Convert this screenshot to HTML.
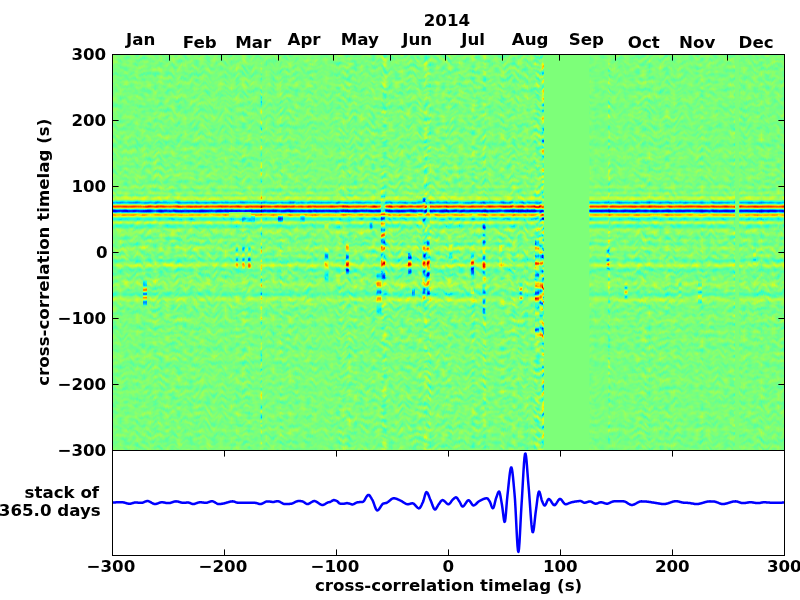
<!DOCTYPE html>
<html lang="en"><head><meta charset="utf-8"><title>cross-correlation 2014</title>
<style>html,body{margin:0;padding:0;background:#fff;overflow:hidden}svg{display:block}text{font-family:"DejaVu Sans","Liberation Sans",sans-serif;font-weight:bold;font-size:16.667px;fill:#000}</style></head><body>
<svg width="800" height="600" viewBox="0 0 800 600">
<rect width="800" height="600" fill="#fff"/>
<defs>
<filter id="jet" filterUnits="userSpaceOnUse" x="102.5" y="44.5" width="2494.0" height="416.0" color-interpolation-filters="sRGB">
<feTurbulence x="102.5" y="44.5" width="692.0" height="416.0" type="fractalNoise" baseFrequency="0.17 0.26" numOctaves="1" seed="7" result="n0"/>
<feColorMatrix x="102.5" y="44.5" width="692.0" height="416.0" in="n0" type="matrix" values="1 0 0 0 0 1 0 0 0 0 1 0 0 0 0 0 0 0 0 1" result="n1"/>
<feTurbulence x="102.5" y="44.5" width="692.0" height="416.0" type="fractalNoise" baseFrequency="0.11 0.012" numOctaves="1" seed="23" result="d0"/>
<feColorMatrix x="102.5" y="44.5" width="692.0" height="416.0" in="d0" type="matrix" values="1 0 0 0 0 0 0 0 0 0.5 0 0 0 0 0.5 0 0 0 0 1" result="d"/>
<feDisplacementMap x="112.5" y="54.5" width="672.0" height="396.0" in="n1" in2="d" scale="14" xChannelSelector="G" yChannelSelector="R" result="n"/>
<feGaussianBlur x="112.5" y="54.5" width="672.0" height="396.0" in="SourceGraphic" stdDeviation="0.7 0.25" result="sig"/>
<feOffset x="112.5" y="54.5" width="672.0" height="396.0" in="SourceGraphic" dx="-900" dy="0" result="ampb"/>
<feOffset x="112.5" y="54.5" width="672.0" height="396.0" in="SourceGraphic" dx="-1800" dy="0" result="ampg"/>
<feComposite x="112.5" y="54.5" width="672.0" height="396.0" in="ampb" in2="ampg" operator="arithmetic" k1="2" k2="0" k3="0" k4="0" result="amp"/>
<feComposite x="112.5" y="54.5" width="672.0" height="396.0" in="n" in2="amp" operator="arithmetic" k1="2" k2="0" k3="-1" k4="0.5" result="na"/>
<feComposite x="112.5" y="54.5" width="672.0" height="396.0" in="na" in2="sig" operator="arithmetic" k1="0" k2="1" k3="1" k4="-0.502" result="sum"/>
<feComponentTransfer x="112.5" y="54.5" width="672.0" height="396.0" in="sum"><feFuncR type="table" tableValues="0 0 0 0 0 0 0 0 0 0 0 0 0 0 0 0.081 0.161 0.242 0.323 0.403 0.484 0.565 0.645 0.726 0.806 0.887 0.968 1 1 1 1 1 1 1 1 1 0.955 0.841 0.727 0.614 0.5"/><feFuncG type="table" tableValues="0 0 0 0 0 0 0.1 0.2 0.3 0.4 0.5 0.6 0.7 0.8 0.9 1 1 1 1 1 1 1 1 1 1 1 0.963 0.87 0.778 0.685 0.593 0.5 0.407 0.315 0.222 0.13 0.037 0 0 0 0"/><feFuncB type="table" tableValues="0.5 0.614 0.727 0.841 0.955 1 1 1 1 1 1 1 1 1 0.968 0.887 0.806 0.726 0.645 0.565 0.484 0.403 0.323 0.242 0.161 0.081 0 0 0 0 0 0 0 0 0 0 0 0 0 0 0"/></feComponentTransfer>
</filter>
<linearGradient id="sg2" x1="0" y1="0" x2="0" y2="1"><stop offset="0.000" stop-color="#808080"/><stop offset="0.012" stop-color="#7e7e7e"/><stop offset="0.023" stop-color="#7d7d7d"/><stop offset="0.035" stop-color="#7e7e7e"/><stop offset="0.047" stop-color="#838383"/><stop offset="0.058" stop-color="#858585"/><stop offset="0.070" stop-color="#818181"/><stop offset="0.081" stop-color="#797979"/><stop offset="0.093" stop-color="#757575"/><stop offset="0.105" stop-color="#797979"/><stop offset="0.116" stop-color="#828282"/><stop offset="0.128" stop-color="#8a8a8a"/><stop offset="0.140" stop-color="#8f8f8f"/><stop offset="0.151" stop-color="#8d8d8d"/><stop offset="0.163" stop-color="#888888"/><stop offset="0.174" stop-color="#828282"/><stop offset="0.186" stop-color="#7c7c7c"/><stop offset="0.198" stop-color="#7c7c7c"/><stop offset="0.209" stop-color="#808080"/><stop offset="0.221" stop-color="#848484"/><stop offset="0.233" stop-color="#878787"/><stop offset="0.244" stop-color="#848484"/><stop offset="0.256" stop-color="#7d7d7d"/><stop offset="0.267" stop-color="#757575"/><stop offset="0.279" stop-color="#6d6d6d"/><stop offset="0.291" stop-color="#6e6e6e"/><stop offset="0.302" stop-color="#797979"/><stop offset="0.314" stop-color="#868686"/><stop offset="0.326" stop-color="#929292"/><stop offset="0.337" stop-color="#9d9d9d"/><stop offset="0.349" stop-color="#9a9a9a"/><stop offset="0.360" stop-color="#8a8a8a"/><stop offset="0.372" stop-color="#7d7d7d"/><stop offset="0.384" stop-color="#737373"/><stop offset="0.395" stop-color="#6f6f6f"/><stop offset="0.407" stop-color="#727272"/><stop offset="0.419" stop-color="#787878"/><stop offset="0.430" stop-color="#7c7c7c"/><stop offset="0.442" stop-color="#7e7e7e"/><stop offset="0.453" stop-color="#7c7c7c"/><stop offset="0.465" stop-color="#7b7b7b"/><stop offset="0.477" stop-color="#7b7b7b"/><stop offset="0.488" stop-color="#7d7d7d"/><stop offset="0.500" stop-color="#808080"/><stop offset="0.512" stop-color="#848484"/><stop offset="0.523" stop-color="#868686"/><stop offset="0.535" stop-color="#888888"/><stop offset="0.547" stop-color="#8a8a8a"/><stop offset="0.558" stop-color="#8c8c8c"/><stop offset="0.570" stop-color="#8c8c8c"/><stop offset="0.581" stop-color="#8a8a8a"/><stop offset="0.593" stop-color="#868686"/><stop offset="0.605" stop-color="#828282"/><stop offset="0.616" stop-color="#7f7f7f"/><stop offset="0.628" stop-color="#7e7e7e"/><stop offset="0.640" stop-color="#7d7d7d"/><stop offset="0.651" stop-color="#787878"/><stop offset="0.663" stop-color="#707070"/><stop offset="0.674" stop-color="#6a6a6a"/><stop offset="0.686" stop-color="#6b6b6b"/><stop offset="0.698" stop-color="#767676"/><stop offset="0.709" stop-color="#848484"/><stop offset="0.721" stop-color="#8d8d8d"/><stop offset="0.733" stop-color="#949494"/><stop offset="0.744" stop-color="#969696"/><stop offset="0.756" stop-color="#8f8f8f"/><stop offset="0.767" stop-color="#878787"/><stop offset="0.779" stop-color="#828282"/><stop offset="0.791" stop-color="#818181"/><stop offset="0.802" stop-color="#818181"/><stop offset="0.814" stop-color="#818181"/><stop offset="0.826" stop-color="#7f7f7f"/><stop offset="0.837" stop-color="#7c7c7c"/><stop offset="0.849" stop-color="#7a7a7a"/><stop offset="0.860" stop-color="#7b7b7b"/><stop offset="0.872" stop-color="#7d7d7d"/><stop offset="0.884" stop-color="#7e7e7e"/><stop offset="0.895" stop-color="#7e7e7e"/><stop offset="0.907" stop-color="#7d7d7d"/><stop offset="0.919" stop-color="#7d7d7d"/><stop offset="0.930" stop-color="#7d7d7d"/><stop offset="0.942" stop-color="#7f7f7f"/><stop offset="0.953" stop-color="#828282"/><stop offset="0.965" stop-color="#838383"/><stop offset="0.977" stop-color="#828282"/><stop offset="0.988" stop-color="#808080"/><stop offset="1.000" stop-color="#808080"/></linearGradient>
<linearGradient id="sg" x1="0" y1="0" x2="0" y2="1"><stop offset="0.0000" stop-color="#808080"/><stop offset="0.0343" stop-color="#808080"/><stop offset="0.0444" stop-color="#7f7f7f"/><stop offset="0.0566" stop-color="#7f7f7f"/><stop offset="0.0646" stop-color="#7f7f7f"/><stop offset="0.0747" stop-color="#828282"/><stop offset="0.0929" stop-color="#7d7d7d"/><stop offset="0.1071" stop-color="#828282"/><stop offset="0.1192" stop-color="#808080"/><stop offset="0.1313" stop-color="#7d7d7d"/><stop offset="0.1636" stop-color="#828282"/><stop offset="0.1798" stop-color="#7d7d7d"/><stop offset="0.2141" stop-color="#828282"/><stop offset="0.2263" stop-color="#7b7b7b"/><stop offset="0.2323" stop-color="#7e7e7e"/><stop offset="0.2384" stop-color="#828282"/><stop offset="0.2566" stop-color="#818181"/><stop offset="0.2646" stop-color="#7e7e7e"/><stop offset="0.2747" stop-color="#808080"/><stop offset="0.2828" stop-color="#7e7e7e"/><stop offset="0.2889" stop-color="#828282"/><stop offset="0.2990" stop-color="#808080"/><stop offset="0.3051" stop-color="#838383"/><stop offset="0.3212" stop-color="#7e7e7e"/><stop offset="0.3253" stop-color="#7d7d7d"/><stop offset="0.3273" stop-color="#7d7d7d"/><stop offset="0.3333" stop-color="#868686"/><stop offset="0.3354" stop-color="#868686"/><stop offset="0.3414" stop-color="#7b7b7b"/><stop offset="0.3434" stop-color="#7b7b7b"/><stop offset="0.3495" stop-color="#868686"/><stop offset="0.3515" stop-color="#868686"/><stop offset="0.3556" stop-color="#7c7c7c"/><stop offset="0.3596" stop-color="#8e8e8e"/><stop offset="0.3616" stop-color="#929292"/><stop offset="0.3636" stop-color="#949494"/><stop offset="0.3657" stop-color="#939393"/><stop offset="0.3677" stop-color="#858585"/><stop offset="0.3717" stop-color="#595959"/><stop offset="0.3737" stop-color="#4b4b4b"/><stop offset="0.3758" stop-color="#515151"/><stop offset="0.3778" stop-color="#717171"/><stop offset="0.3798" stop-color="#9e9e9e"/><stop offset="0.3818" stop-color="#c7c7c7"/><stop offset="0.3838" stop-color="#dbdbdb"/><stop offset="0.3859" stop-color="#cecece"/><stop offset="0.3879" stop-color="#a8a8a8"/><stop offset="0.3919" stop-color="#444444"/><stop offset="0.3939" stop-color="#232323"/><stop offset="0.3960" stop-color="#1f1f1f"/><stop offset="0.3980" stop-color="#3b3b3b"/><stop offset="0.4020" stop-color="#969696"/><stop offset="0.4040" stop-color="#b6b6b6"/><stop offset="0.4061" stop-color="#b8b8b8"/><stop offset="0.4081" stop-color="#a7a7a7"/><stop offset="0.4121" stop-color="#747474"/><stop offset="0.4141" stop-color="#626262"/><stop offset="0.4162" stop-color="#5f5f5f"/><stop offset="0.4182" stop-color="#6b6b6b"/><stop offset="0.4222" stop-color="#8d8d8d"/><stop offset="0.4242" stop-color="#959595"/><stop offset="0.4263" stop-color="#909090"/><stop offset="0.4303" stop-color="#747474"/><stop offset="0.4323" stop-color="#6c6c6c"/><stop offset="0.4343" stop-color="#6d6d6d"/><stop offset="0.4364" stop-color="#717171"/><stop offset="0.4384" stop-color="#787878"/><stop offset="0.4404" stop-color="#848484"/><stop offset="0.4424" stop-color="#888888"/><stop offset="0.4505" stop-color="#858585"/><stop offset="0.4586" stop-color="#7e7e7e"/><stop offset="0.4626" stop-color="#7a7a7a"/><stop offset="0.4646" stop-color="#7c7c7c"/><stop offset="0.4687" stop-color="#838383"/><stop offset="0.4707" stop-color="#848484"/><stop offset="0.4768" stop-color="#7a7a7a"/><stop offset="0.4788" stop-color="#787878"/><stop offset="0.4808" stop-color="#7a7a7a"/><stop offset="0.4869" stop-color="#888888"/><stop offset="0.4889" stop-color="#8a8a8a"/><stop offset="0.4949" stop-color="#848484"/><stop offset="0.4990" stop-color="#7d7d7d"/><stop offset="0.5030" stop-color="#7f7f7f"/><stop offset="0.5071" stop-color="#848484"/><stop offset="0.5091" stop-color="#848484"/><stop offset="0.5131" stop-color="#7f7f7f"/><stop offset="0.5192" stop-color="#737373"/><stop offset="0.5212" stop-color="#737373"/><stop offset="0.5232" stop-color="#787878"/><stop offset="0.5313" stop-color="#939393"/><stop offset="0.5333" stop-color="#939393"/><stop offset="0.5354" stop-color="#8c8c8c"/><stop offset="0.5374" stop-color="#838383"/><stop offset="0.5414" stop-color="#787878"/><stop offset="0.5434" stop-color="#757575"/><stop offset="0.5475" stop-color="#787878"/><stop offset="0.5515" stop-color="#7d7d7d"/><stop offset="0.5556" stop-color="#7e7e7e"/><stop offset="0.5616" stop-color="#7d7d7d"/><stop offset="0.5798" stop-color="#888888"/><stop offset="0.5838" stop-color="#878787"/><stop offset="0.5919" stop-color="#7f7f7f"/><stop offset="0.5980" stop-color="#7d7d7d"/><stop offset="0.6040" stop-color="#727272"/><stop offset="0.6061" stop-color="#717171"/><stop offset="0.6081" stop-color="#747474"/><stop offset="0.6121" stop-color="#828282"/><stop offset="0.6162" stop-color="#8b8b8b"/><stop offset="0.6182" stop-color="#8e8e8e"/><stop offset="0.6202" stop-color="#8e8e8e"/><stop offset="0.6263" stop-color="#828282"/><stop offset="0.6384" stop-color="#7f7f7f"/><stop offset="0.6424" stop-color="#7c7c7c"/><stop offset="0.6525" stop-color="#7e7e7e"/><stop offset="0.6626" stop-color="#7f7f7f"/><stop offset="0.6687" stop-color="#848484"/><stop offset="0.6727" stop-color="#848484"/><stop offset="0.6869" stop-color="#7b7b7b"/><stop offset="0.6929" stop-color="#7e7e7e"/><stop offset="0.6990" stop-color="#838383"/><stop offset="0.7091" stop-color="#7d7d7d"/><stop offset="0.7192" stop-color="#828282"/><stop offset="0.7273" stop-color="#818181"/><stop offset="0.7354" stop-color="#7d7d7d"/><stop offset="0.7455" stop-color="#7d7d7d"/><stop offset="0.7535" stop-color="#828282"/><stop offset="0.7657" stop-color="#828282"/><stop offset="0.7717" stop-color="#818181"/><stop offset="0.7798" stop-color="#7d7d7d"/><stop offset="0.7939" stop-color="#7f7f7f"/><stop offset="0.8162" stop-color="#808080"/><stop offset="0.8242" stop-color="#828282"/><stop offset="0.8424" stop-color="#7d7d7d"/><stop offset="0.8525" stop-color="#828282"/><stop offset="0.8626" stop-color="#7f7f7f"/><stop offset="0.8727" stop-color="#808080"/><stop offset="0.8808" stop-color="#7d7d7d"/><stop offset="0.8889" stop-color="#808080"/><stop offset="0.8990" stop-color="#808080"/><stop offset="0.9071" stop-color="#828282"/><stop offset="0.9172" stop-color="#7f7f7f"/><stop offset="0.9293" stop-color="#808080"/><stop offset="0.9374" stop-color="#7d7d7d"/><stop offset="0.9475" stop-color="#838383"/><stop offset="0.9576" stop-color="#7f7f7f"/><stop offset="0.9697" stop-color="#7f7f7f"/><stop offset="0.9778" stop-color="#7e7e7e"/><stop offset="0.9899" stop-color="#808080"/><stop offset="1.0000" stop-color="#808080"/></linearGradient>
<linearGradient id="x0" x1="0" y1="0" x2="0" y2="1"><stop offset="0.000" stop-color="#808080"/><stop offset="0.016" stop-color="#959595"/><stop offset="0.033" stop-color="#9e9e9e"/><stop offset="0.049" stop-color="#959595"/><stop offset="0.066" stop-color="#757575"/><stop offset="0.082" stop-color="#616161"/><stop offset="0.098" stop-color="#767676"/><stop offset="0.115" stop-color="#959595"/><stop offset="0.131" stop-color="#8c8c8c"/><stop offset="0.148" stop-color="#666666"/><stop offset="0.164" stop-color="#696969"/><stop offset="0.180" stop-color="#848484"/><stop offset="0.197" stop-color="#8e8e8e"/><stop offset="0.213" stop-color="#7a7a7a"/><stop offset="0.230" stop-color="#616161"/><stop offset="0.246" stop-color="#5e5e5e"/><stop offset="0.262" stop-color="#a3a3a3"/><stop offset="0.279" stop-color="#d4d4d4"/><stop offset="0.295" stop-color="#9a9a9a"/><stop offset="0.311" stop-color="#3c3c3c"/><stop offset="0.328" stop-color="#1c1c1c"/><stop offset="0.344" stop-color="#4e4e4e"/><stop offset="0.361" stop-color="#999999"/><stop offset="0.377" stop-color="#c6c6c6"/><stop offset="0.393" stop-color="#b9b9b9"/><stop offset="0.410" stop-color="#919191"/><stop offset="0.426" stop-color="#646464"/><stop offset="0.443" stop-color="#444444"/><stop offset="0.459" stop-color="#474747"/><stop offset="0.475" stop-color="#6f6f6f"/><stop offset="0.492" stop-color="#a1a1a1"/><stop offset="0.508" stop-color="#bebebe"/><stop offset="0.525" stop-color="#b3b3b3"/><stop offset="0.541" stop-color="#8f8f8f"/><stop offset="0.557" stop-color="#646464"/><stop offset="0.574" stop-color="#454545"/><stop offset="0.590" stop-color="#464646"/><stop offset="0.607" stop-color="#717171"/><stop offset="0.623" stop-color="#a8a8a8"/><stop offset="0.639" stop-color="#cbcbcb"/><stop offset="0.656" stop-color="#c4c4c4"/><stop offset="0.672" stop-color="#ababab"/><stop offset="0.689" stop-color="#898989"/><stop offset="0.705" stop-color="#6b6b6b"/><stop offset="0.721" stop-color="#5a5a5a"/><stop offset="0.738" stop-color="#5f5f5f"/><stop offset="0.754" stop-color="#767676"/><stop offset="0.770" stop-color="#979797"/><stop offset="0.787" stop-color="#b9b9b9"/><stop offset="0.803" stop-color="#d4d4d4"/><stop offset="0.820" stop-color="#e0e0e0"/><stop offset="0.836" stop-color="#d5d5d5"/><stop offset="0.852" stop-color="#b5b5b5"/><stop offset="0.869" stop-color="#8e8e8e"/><stop offset="0.885" stop-color="#6d6d6d"/><stop offset="0.902" stop-color="#585858"/><stop offset="0.918" stop-color="#444444"/><stop offset="0.934" stop-color="#363636"/><stop offset="0.951" stop-color="#343434"/><stop offset="0.967" stop-color="#414141"/><stop offset="0.984" stop-color="#5b5b5b"/><stop offset="1.000" stop-color="#808080"/></linearGradient>
<linearGradient id="x1" x1="0" y1="0" x2="0" y2="1"><stop offset="0.000" stop-color="#808080"/><stop offset="0.034" stop-color="#636363"/><stop offset="0.069" stop-color="#515151"/><stop offset="0.103" stop-color="#4d4d4d"/><stop offset="0.138" stop-color="#5b5b5b"/><stop offset="0.172" stop-color="#737373"/><stop offset="0.207" stop-color="#909090"/><stop offset="0.241" stop-color="#acacac"/><stop offset="0.276" stop-color="#bfbfbf"/><stop offset="0.310" stop-color="#c3c3c3"/><stop offset="0.345" stop-color="#afafaf"/><stop offset="0.379" stop-color="#8b8b8b"/><stop offset="0.414" stop-color="#626262"/><stop offset="0.448" stop-color="#424242"/><stop offset="0.483" stop-color="#393939"/><stop offset="0.517" stop-color="#535353"/><stop offset="0.552" stop-color="#828282"/><stop offset="0.586" stop-color="#afafaf"/><stop offset="0.621" stop-color="#c4c4c4"/><stop offset="0.655" stop-color="#b8b8b8"/><stop offset="0.690" stop-color="#9a9a9a"/><stop offset="0.724" stop-color="#7d7d7d"/><stop offset="0.759" stop-color="#6f6f6f"/><stop offset="0.793" stop-color="#666666"/><stop offset="0.828" stop-color="#5e5e5e"/><stop offset="0.862" stop-color="#5a5a5a"/><stop offset="0.897" stop-color="#5a5a5a"/><stop offset="0.931" stop-color="#616161"/><stop offset="0.966" stop-color="#6e6e6e"/><stop offset="1.000" stop-color="#808080"/></linearGradient>
<linearGradient id="x2" x1="0" y1="0" x2="0" y2="1"><stop offset="0.000" stop-color="#808080"/><stop offset="0.014" stop-color="#505050"/><stop offset="0.027" stop-color="#383838"/><stop offset="0.041" stop-color="#363636"/><stop offset="0.054" stop-color="#616161"/><stop offset="0.068" stop-color="#a1a1a1"/><stop offset="0.081" stop-color="#cfcfcf"/><stop offset="0.095" stop-color="#c1c1c1"/><stop offset="0.108" stop-color="#757575"/><stop offset="0.122" stop-color="#2f2f2f"/><stop offset="0.135" stop-color="#373737"/><stop offset="0.149" stop-color="#7f7f7f"/><stop offset="0.162" stop-color="#b2b2b2"/><stop offset="0.176" stop-color="#9c9c9c"/><stop offset="0.189" stop-color="#676767"/><stop offset="0.203" stop-color="#3a3a3a"/><stop offset="0.216" stop-color="#383838"/><stop offset="0.230" stop-color="#545454"/><stop offset="0.243" stop-color="#797979"/><stop offset="0.257" stop-color="#959595"/><stop offset="0.270" stop-color="#969696"/><stop offset="0.284" stop-color="#868686"/><stop offset="0.297" stop-color="#737373"/><stop offset="0.311" stop-color="#6b6b6b"/><stop offset="0.324" stop-color="#717171"/><stop offset="0.338" stop-color="#7d7d7d"/><stop offset="0.351" stop-color="#888888"/><stop offset="0.365" stop-color="#8c8c8c"/><stop offset="0.378" stop-color="#858585"/><stop offset="0.392" stop-color="#787878"/><stop offset="0.405" stop-color="#6b6b6b"/><stop offset="0.419" stop-color="#666666"/><stop offset="0.432" stop-color="#777777"/><stop offset="0.446" stop-color="#9a9a9a"/><stop offset="0.459" stop-color="#bababa"/><stop offset="0.473" stop-color="#c4c4c4"/><stop offset="0.486" stop-color="#a8a8a8"/><stop offset="0.500" stop-color="#777777"/><stop offset="0.514" stop-color="#484848"/><stop offset="0.527" stop-color="#333333"/><stop offset="0.541" stop-color="#3f3f3f"/><stop offset="0.554" stop-color="#5e5e5e"/><stop offset="0.568" stop-color="#878787"/><stop offset="0.581" stop-color="#b1b1b1"/><stop offset="0.595" stop-color="#d3d3d3"/><stop offset="0.608" stop-color="#e5e5e5"/><stop offset="0.622" stop-color="#d9d9d9"/><stop offset="0.635" stop-color="#adadad"/><stop offset="0.649" stop-color="#757575"/><stop offset="0.662" stop-color="#464646"/><stop offset="0.676" stop-color="#333333"/><stop offset="0.689" stop-color="#3c3c3c"/><stop offset="0.703" stop-color="#505050"/><stop offset="0.716" stop-color="#6c6c6c"/><stop offset="0.730" stop-color="#898989"/><stop offset="0.743" stop-color="#a3a3a3"/><stop offset="0.757" stop-color="#b4b4b4"/><stop offset="0.770" stop-color="#b7b7b7"/><stop offset="0.784" stop-color="#adadad"/><stop offset="0.797" stop-color="#9a9a9a"/><stop offset="0.811" stop-color="#818181"/><stop offset="0.824" stop-color="#676767"/><stop offset="0.838" stop-color="#4f4f4f"/><stop offset="0.851" stop-color="#3d3d3d"/><stop offset="0.865" stop-color="#333333"/><stop offset="0.878" stop-color="#3f3f3f"/><stop offset="0.892" stop-color="#6a6a6a"/><stop offset="0.905" stop-color="#9c9c9c"/><stop offset="0.919" stop-color="#c0c0c0"/><stop offset="0.932" stop-color="#bbbbbb"/><stop offset="0.946" stop-color="#8f8f8f"/><stop offset="0.959" stop-color="#696969"/><stop offset="0.973" stop-color="#666666"/><stop offset="0.986" stop-color="#6c6c6c"/><stop offset="1.000" stop-color="#808080"/></linearGradient>
<linearGradient id="x3" x1="0" y1="0" x2="0" y2="1"><stop offset="0.000" stop-color="#808080"/><stop offset="0.015" stop-color="#6e6e6e"/><stop offset="0.029" stop-color="#676767"/><stop offset="0.044" stop-color="#696969"/><stop offset="0.059" stop-color="#828282"/><stop offset="0.074" stop-color="#949494"/><stop offset="0.088" stop-color="#878787"/><stop offset="0.103" stop-color="#6e6e6e"/><stop offset="0.118" stop-color="#616161"/><stop offset="0.132" stop-color="#8b8b8b"/><stop offset="0.147" stop-color="#c6c6c6"/><stop offset="0.162" stop-color="#bfbfbf"/><stop offset="0.176" stop-color="#919191"/><stop offset="0.191" stop-color="#696969"/><stop offset="0.206" stop-color="#6a6a6a"/><stop offset="0.221" stop-color="#797979"/><stop offset="0.235" stop-color="#888888"/><stop offset="0.250" stop-color="#8c8c8c"/><stop offset="0.265" stop-color="#868686"/><stop offset="0.279" stop-color="#7c7c7c"/><stop offset="0.294" stop-color="#757575"/><stop offset="0.309" stop-color="#737373"/><stop offset="0.324" stop-color="#777777"/><stop offset="0.338" stop-color="#7d7d7d"/><stop offset="0.353" stop-color="#848484"/><stop offset="0.368" stop-color="#8a8a8a"/><stop offset="0.382" stop-color="#8c8c8c"/><stop offset="0.397" stop-color="#7d7d7d"/><stop offset="0.412" stop-color="#5d5d5d"/><stop offset="0.426" stop-color="#3e3e3e"/><stop offset="0.441" stop-color="#343434"/><stop offset="0.456" stop-color="#5c5c5c"/><stop offset="0.471" stop-color="#9b9b9b"/><stop offset="0.485" stop-color="#c3c3c3"/><stop offset="0.500" stop-color="#bdbdbd"/><stop offset="0.515" stop-color="#a6a6a6"/><stop offset="0.529" stop-color="#898989"/><stop offset="0.544" stop-color="#707070"/><stop offset="0.559" stop-color="#666666"/><stop offset="0.574" stop-color="#717171"/><stop offset="0.588" stop-color="#8c8c8c"/><stop offset="0.603" stop-color="#aeaeae"/><stop offset="0.618" stop-color="#cecece"/><stop offset="0.632" stop-color="#e3e3e3"/><stop offset="0.647" stop-color="#e3e3e3"/><stop offset="0.662" stop-color="#d1d1d1"/><stop offset="0.676" stop-color="#b3b3b3"/><stop offset="0.691" stop-color="#8f8f8f"/><stop offset="0.706" stop-color="#6b6b6b"/><stop offset="0.721" stop-color="#4b4b4b"/><stop offset="0.735" stop-color="#373737"/><stop offset="0.750" stop-color="#353535"/><stop offset="0.765" stop-color="#4c4c4c"/><stop offset="0.779" stop-color="#747474"/><stop offset="0.794" stop-color="#9f9f9f"/><stop offset="0.809" stop-color="#bdbdbd"/><stop offset="0.824" stop-color="#c3c3c3"/><stop offset="0.838" stop-color="#b5b5b5"/><stop offset="0.853" stop-color="#9b9b9b"/><stop offset="0.868" stop-color="#7c7c7c"/><stop offset="0.882" stop-color="#5c5c5c"/><stop offset="0.897" stop-color="#424242"/><stop offset="0.912" stop-color="#343434"/><stop offset="0.926" stop-color="#3b3b3b"/><stop offset="0.941" stop-color="#5a5a5a"/><stop offset="0.956" stop-color="#7c7c7c"/><stop offset="0.971" stop-color="#8c8c8c"/><stop offset="0.985" stop-color="#8a8a8a"/><stop offset="1.000" stop-color="#808080"/></linearGradient>
<linearGradient id="x4" x1="0" y1="0" x2="0" y2="1"><stop offset="0.000" stop-color="#808080"/><stop offset="0.016" stop-color="#515151"/><stop offset="0.032" stop-color="#393939"/><stop offset="0.048" stop-color="#333333"/><stop offset="0.065" stop-color="#545454"/><stop offset="0.081" stop-color="#868686"/><stop offset="0.097" stop-color="#868686"/><stop offset="0.113" stop-color="#6b6b6b"/><stop offset="0.129" stop-color="#595959"/><stop offset="0.145" stop-color="#6a6a6a"/><stop offset="0.161" stop-color="#878787"/><stop offset="0.177" stop-color="#828282"/><stop offset="0.194" stop-color="#555555"/><stop offset="0.210" stop-color="#343434"/><stop offset="0.226" stop-color="#3e3e3e"/><stop offset="0.242" stop-color="#606060"/><stop offset="0.258" stop-color="#8a8a8a"/><stop offset="0.274" stop-color="#b0b0b0"/><stop offset="0.290" stop-color="#c4c4c4"/><stop offset="0.306" stop-color="#bababa"/><stop offset="0.323" stop-color="#9a9a9a"/><stop offset="0.339" stop-color="#707070"/><stop offset="0.355" stop-color="#494949"/><stop offset="0.371" stop-color="#343434"/><stop offset="0.387" stop-color="#404040"/><stop offset="0.403" stop-color="#6e6e6e"/><stop offset="0.419" stop-color="#a8a8a8"/><stop offset="0.435" stop-color="#d7d7d7"/><stop offset="0.452" stop-color="#e5e5e5"/><stop offset="0.468" stop-color="#d4d4d4"/><stop offset="0.484" stop-color="#b2b2b2"/><stop offset="0.500" stop-color="#8b8b8b"/><stop offset="0.516" stop-color="#686868"/><stop offset="0.532" stop-color="#535353"/><stop offset="0.548" stop-color="#555555"/><stop offset="0.565" stop-color="#636363"/><stop offset="0.581" stop-color="#787878"/><stop offset="0.597" stop-color="#8b8b8b"/><stop offset="0.613" stop-color="#989898"/><stop offset="0.629" stop-color="#989898"/><stop offset="0.645" stop-color="#909090"/><stop offset="0.661" stop-color="#828282"/><stop offset="0.677" stop-color="#717171"/><stop offset="0.694" stop-color="#5f5f5f"/><stop offset="0.710" stop-color="#4e4e4e"/><stop offset="0.726" stop-color="#3f3f3f"/><stop offset="0.742" stop-color="#363636"/><stop offset="0.758" stop-color="#343434"/><stop offset="0.774" stop-color="#505050"/><stop offset="0.790" stop-color="#7a7a7a"/><stop offset="0.806" stop-color="#8c8c8c"/><stop offset="0.823" stop-color="#7b7b7b"/><stop offset="0.839" stop-color="#5d5d5d"/><stop offset="0.855" stop-color="#454545"/><stop offset="0.871" stop-color="#464646"/><stop offset="0.887" stop-color="#727272"/><stop offset="0.903" stop-color="#8c8c8c"/><stop offset="0.919" stop-color="#6d6d6d"/><stop offset="0.935" stop-color="#3f3f3f"/><stop offset="0.952" stop-color="#343434"/><stop offset="0.968" stop-color="#3d3d3d"/><stop offset="0.984" stop-color="#555555"/><stop offset="1.000" stop-color="#808080"/></linearGradient>
<linearGradient id="x5" x1="0" y1="0" x2="0" y2="1"><stop offset="0.000" stop-color="#808080"/><stop offset="0.015" stop-color="#505050"/><stop offset="0.029" stop-color="#393939"/><stop offset="0.044" stop-color="#333333"/><stop offset="0.059" stop-color="#4f4f4f"/><stop offset="0.074" stop-color="#979797"/><stop offset="0.088" stop-color="#c4c4c4"/><stop offset="0.103" stop-color="#bcbcbc"/><stop offset="0.118" stop-color="#a4a4a4"/><stop offset="0.132" stop-color="#848484"/><stop offset="0.147" stop-color="#636363"/><stop offset="0.162" stop-color="#464646"/><stop offset="0.176" stop-color="#353535"/><stop offset="0.191" stop-color="#3b3b3b"/><stop offset="0.206" stop-color="#666666"/><stop offset="0.221" stop-color="#a0a0a0"/><stop offset="0.235" stop-color="#cecece"/><stop offset="0.250" stop-color="#d7d7d7"/><stop offset="0.265" stop-color="#c4c4c4"/><stop offset="0.279" stop-color="#a4a4a4"/><stop offset="0.294" stop-color="#858585"/><stop offset="0.309" stop-color="#717171"/><stop offset="0.324" stop-color="#656565"/><stop offset="0.338" stop-color="#5b5b5b"/><stop offset="0.353" stop-color="#545454"/><stop offset="0.368" stop-color="#525252"/><stop offset="0.382" stop-color="#5a5a5a"/><stop offset="0.397" stop-color="#6c6c6c"/><stop offset="0.412" stop-color="#838383"/><stop offset="0.426" stop-color="#9a9a9a"/><stop offset="0.441" stop-color="#acacac"/><stop offset="0.456" stop-color="#b2b2b2"/><stop offset="0.471" stop-color="#a5a5a5"/><stop offset="0.485" stop-color="#858585"/><stop offset="0.500" stop-color="#606060"/><stop offset="0.515" stop-color="#414141"/><stop offset="0.529" stop-color="#333333"/><stop offset="0.544" stop-color="#494949"/><stop offset="0.559" stop-color="#7c7c7c"/><stop offset="0.574" stop-color="#b3b3b3"/><stop offset="0.588" stop-color="#d2d2d2"/><stop offset="0.603" stop-color="#c9c9c9"/><stop offset="0.618" stop-color="#a5a5a5"/><stop offset="0.632" stop-color="#7a7a7a"/><stop offset="0.647" stop-color="#5d5d5d"/><stop offset="0.662" stop-color="#5c5c5c"/><stop offset="0.676" stop-color="#6a6a6a"/><stop offset="0.691" stop-color="#7d7d7d"/><stop offset="0.706" stop-color="#8f8f8f"/><stop offset="0.721" stop-color="#999999"/><stop offset="0.735" stop-color="#969696"/><stop offset="0.750" stop-color="#8b8b8b"/><stop offset="0.765" stop-color="#7d7d7d"/><stop offset="0.779" stop-color="#707070"/><stop offset="0.794" stop-color="#676767"/><stop offset="0.809" stop-color="#686868"/><stop offset="0.824" stop-color="#797979"/><stop offset="0.838" stop-color="#8c8c8c"/><stop offset="0.853" stop-color="#949494"/><stop offset="0.868" stop-color="#7c7c7c"/><stop offset="0.882" stop-color="#525252"/><stop offset="0.897" stop-color="#353535"/><stop offset="0.912" stop-color="#414141"/><stop offset="0.926" stop-color="#6f6f6f"/><stop offset="0.941" stop-color="#9b9b9b"/><stop offset="0.956" stop-color="#a6a6a6"/><stop offset="0.971" stop-color="#a3a3a3"/><stop offset="0.985" stop-color="#989898"/><stop offset="1.000" stop-color="#808080"/></linearGradient>
<linearGradient id="x6" x1="0" y1="0" x2="0" y2="1"><stop offset="0.000" stop-color="#808080"/><stop offset="0.015" stop-color="#909090"/><stop offset="0.029" stop-color="#989898"/><stop offset="0.044" stop-color="#979797"/><stop offset="0.059" stop-color="#858585"/><stop offset="0.074" stop-color="#696969"/><stop offset="0.088" stop-color="#525252"/><stop offset="0.103" stop-color="#4f4f4f"/><stop offset="0.118" stop-color="#676767"/><stop offset="0.132" stop-color="#8c8c8c"/><stop offset="0.147" stop-color="#ababab"/><stop offset="0.162" stop-color="#b0b0b0"/><stop offset="0.176" stop-color="#959595"/><stop offset="0.191" stop-color="#6b6b6b"/><stop offset="0.206" stop-color="#484848"/><stop offset="0.221" stop-color="#434343"/><stop offset="0.235" stop-color="#646464"/><stop offset="0.250" stop-color="#979797"/><stop offset="0.265" stop-color="#c2c2c2"/><stop offset="0.279" stop-color="#c9c9c9"/><stop offset="0.294" stop-color="#ababab"/><stop offset="0.309" stop-color="#7c7c7c"/><stop offset="0.324" stop-color="#565656"/><stop offset="0.338" stop-color="#4e4e4e"/><stop offset="0.353" stop-color="#5c5c5c"/><stop offset="0.368" stop-color="#737373"/><stop offset="0.382" stop-color="#8a8a8a"/><stop offset="0.397" stop-color="#989898"/><stop offset="0.412" stop-color="#939393"/><stop offset="0.426" stop-color="#7f7f7f"/><stop offset="0.441" stop-color="#737373"/><stop offset="0.456" stop-color="#919191"/><stop offset="0.471" stop-color="#c5c5c5"/><stop offset="0.485" stop-color="#d1d1d1"/><stop offset="0.500" stop-color="#adadad"/><stop offset="0.515" stop-color="#777777"/><stop offset="0.529" stop-color="#4b4b4b"/><stop offset="0.544" stop-color="#434343"/><stop offset="0.559" stop-color="#646464"/><stop offset="0.574" stop-color="#979797"/><stop offset="0.588" stop-color="#c2c2c2"/><stop offset="0.603" stop-color="#c9c9c9"/><stop offset="0.618" stop-color="#ababab"/><stop offset="0.632" stop-color="#7c7c7c"/><stop offset="0.647" stop-color="#565656"/><stop offset="0.662" stop-color="#4e4e4e"/><stop offset="0.676" stop-color="#646464"/><stop offset="0.691" stop-color="#848484"/><stop offset="0.706" stop-color="#9f9f9f"/><stop offset="0.721" stop-color="#a5a5a5"/><stop offset="0.735" stop-color="#979797"/><stop offset="0.750" stop-color="#808080"/><stop offset="0.765" stop-color="#686868"/><stop offset="0.779" stop-color="#5a5a5a"/><stop offset="0.794" stop-color="#5e5e5e"/><stop offset="0.809" stop-color="#737373"/><stop offset="0.824" stop-color="#8c8c8c"/><stop offset="0.838" stop-color="#9d9d9d"/><stop offset="0.853" stop-color="#989898"/><stop offset="0.868" stop-color="#7f7f7f"/><stop offset="0.882" stop-color="#626262"/><stop offset="0.897" stop-color="#4e4e4e"/><stop offset="0.912" stop-color="#545454"/><stop offset="0.926" stop-color="#737373"/><stop offset="0.941" stop-color="#989898"/><stop offset="0.956" stop-color="#b0b0b0"/><stop offset="0.971" stop-color="#afafaf"/><stop offset="0.985" stop-color="#9e9e9e"/><stop offset="1.000" stop-color="#808080"/></linearGradient>
<linearGradient id="x7" x1="0" y1="0" x2="0" y2="1"><stop offset="0.000" stop-color="#808080"/><stop offset="0.056" stop-color="#676767"/><stop offset="0.111" stop-color="#5c5c5c"/><stop offset="0.167" stop-color="#595959"/><stop offset="0.222" stop-color="#616161"/><stop offset="0.278" stop-color="#898989"/><stop offset="0.333" stop-color="#b8b8b8"/><stop offset="0.389" stop-color="#cccccc"/><stop offset="0.444" stop-color="#939393"/><stop offset="0.500" stop-color="#434343"/><stop offset="0.556" stop-color="#414141"/><stop offset="0.611" stop-color="#909090"/><stop offset="0.667" stop-color="#cbcbcb"/><stop offset="0.722" stop-color="#b0b0b0"/><stop offset="0.778" stop-color="#707070"/><stop offset="0.833" stop-color="#424242"/><stop offset="0.889" stop-color="#434343"/><stop offset="0.944" stop-color="#565656"/><stop offset="1.000" stop-color="#808080"/></linearGradient>
<linearGradient id="x8" x1="0" y1="0" x2="0" y2="1"><stop offset="0.000" stop-color="#808080"/><stop offset="0.062" stop-color="#696969"/><stop offset="0.125" stop-color="#5d5d5d"/><stop offset="0.188" stop-color="#5c5c5c"/><stop offset="0.250" stop-color="#6e6e6e"/><stop offset="0.312" stop-color="#8a8a8a"/><stop offset="0.375" stop-color="#9d9d9d"/><stop offset="0.438" stop-color="#949494"/><stop offset="0.500" stop-color="#727272"/><stop offset="0.562" stop-color="#515151"/><stop offset="0.625" stop-color="#494949"/><stop offset="0.688" stop-color="#727272"/><stop offset="0.750" stop-color="#a9a9a9"/><stop offset="0.812" stop-color="#bdbdbd"/><stop offset="0.875" stop-color="#b7b7b7"/><stop offset="0.938" stop-color="#a5a5a5"/><stop offset="1.000" stop-color="#808080"/></linearGradient>
<linearGradient id="x9" x1="0" y1="0" x2="0" y2="1"><stop offset="0.000" stop-color="#808080"/><stop offset="0.062" stop-color="#646464"/><stop offset="0.125" stop-color="#555555"/><stop offset="0.188" stop-color="#535353"/><stop offset="0.250" stop-color="#696969"/><stop offset="0.312" stop-color="#8d8d8d"/><stop offset="0.375" stop-color="#a4a4a4"/><stop offset="0.438" stop-color="#999999"/><stop offset="0.500" stop-color="#6f6f6f"/><stop offset="0.562" stop-color="#454545"/><stop offset="0.625" stop-color="#3b3b3b"/><stop offset="0.688" stop-color="#6f6f6f"/><stop offset="0.750" stop-color="#b3b3b3"/><stop offset="0.812" stop-color="#cccccc"/><stop offset="0.875" stop-color="#c5c5c5"/><stop offset="0.938" stop-color="#aeaeae"/><stop offset="1.000" stop-color="#808080"/></linearGradient>
<linearGradient id="x10" x1="0" y1="0" x2="0" y2="1"><stop offset="0.000" stop-color="#808080"/><stop offset="0.062" stop-color="#646464"/><stop offset="0.125" stop-color="#555555"/><stop offset="0.188" stop-color="#535353"/><stop offset="0.250" stop-color="#696969"/><stop offset="0.312" stop-color="#8d8d8d"/><stop offset="0.375" stop-color="#a4a4a4"/><stop offset="0.438" stop-color="#999999"/><stop offset="0.500" stop-color="#6f6f6f"/><stop offset="0.562" stop-color="#454545"/><stop offset="0.625" stop-color="#3b3b3b"/><stop offset="0.688" stop-color="#6f6f6f"/><stop offset="0.750" stop-color="#b3b3b3"/><stop offset="0.812" stop-color="#cccccc"/><stop offset="0.875" stop-color="#c5c5c5"/><stop offset="0.938" stop-color="#aeaeae"/><stop offset="1.000" stop-color="#808080"/></linearGradient>
<linearGradient id="x11" x1="0" y1="0" x2="0" y2="1"><stop offset="0.000" stop-color="#808080"/><stop offset="0.045" stop-color="#a0a0a0"/><stop offset="0.091" stop-color="#b5b5b5"/><stop offset="0.136" stop-color="#bebebe"/><stop offset="0.182" stop-color="#bbbbbb"/><stop offset="0.227" stop-color="#a6a6a6"/><stop offset="0.273" stop-color="#898989"/><stop offset="0.318" stop-color="#707070"/><stop offset="0.364" stop-color="#565656"/><stop offset="0.409" stop-color="#3d3d3d"/><stop offset="0.455" stop-color="#333333"/><stop offset="0.500" stop-color="#4a4a4a"/><stop offset="0.545" stop-color="#7c7c7c"/><stop offset="0.591" stop-color="#b4b4b4"/><stop offset="0.636" stop-color="#dddddd"/><stop offset="0.682" stop-color="#e1e1e1"/><stop offset="0.727" stop-color="#b3b3b3"/><stop offset="0.773" stop-color="#717171"/><stop offset="0.818" stop-color="#3d3d3d"/><stop offset="0.864" stop-color="#343434"/><stop offset="0.909" stop-color="#3d3d3d"/><stop offset="0.955" stop-color="#555555"/><stop offset="1.000" stop-color="#808080"/></linearGradient>
<linearGradient id="x12" x1="0" y1="0" x2="0" y2="1"><stop offset="0.000" stop-color="#808080"/><stop offset="0.062" stop-color="#595959"/><stop offset="0.125" stop-color="#424242"/><stop offset="0.188" stop-color="#363636"/><stop offset="0.250" stop-color="#343434"/><stop offset="0.312" stop-color="#4f4f4f"/><stop offset="0.375" stop-color="#828282"/><stop offset="0.438" stop-color="#b9b9b9"/><stop offset="0.500" stop-color="#dfdfdf"/><stop offset="0.562" stop-color="#dedede"/><stop offset="0.625" stop-color="#aeaeae"/><stop offset="0.688" stop-color="#6d6d6d"/><stop offset="0.750" stop-color="#3b3b3b"/><stop offset="0.812" stop-color="#343434"/><stop offset="0.875" stop-color="#3e3e3e"/><stop offset="0.938" stop-color="#555555"/><stop offset="1.000" stop-color="#808080"/></linearGradient>
<linearGradient id="x13" x1="0" y1="0" x2="0" y2="1"><stop offset="0.000" stop-color="#808080"/><stop offset="0.167" stop-color="#5c5c5c"/><stop offset="0.333" stop-color="#474747"/><stop offset="0.500" stop-color="#404040"/><stop offset="0.667" stop-color="#474747"/><stop offset="0.833" stop-color="#5c5c5c"/><stop offset="1.000" stop-color="#808080"/></linearGradient>
<linearGradient id="x14" x1="0" y1="0" x2="0" y2="1"><stop offset="0.000" stop-color="#808080"/><stop offset="0.036" stop-color="#686868"/><stop offset="0.071" stop-color="#5d5d5d"/><stop offset="0.107" stop-color="#595959"/><stop offset="0.143" stop-color="#5c5c5c"/><stop offset="0.179" stop-color="#7d7d7d"/><stop offset="0.214" stop-color="#adadad"/><stop offset="0.250" stop-color="#d3d3d3"/><stop offset="0.286" stop-color="#d0d0d0"/><stop offset="0.321" stop-color="#9c9c9c"/><stop offset="0.357" stop-color="#5b5b5b"/><stop offset="0.393" stop-color="#343434"/><stop offset="0.429" stop-color="#363636"/><stop offset="0.464" stop-color="#414141"/><stop offset="0.500" stop-color="#505050"/><stop offset="0.536" stop-color="#5d5d5d"/><stop offset="0.571" stop-color="#686868"/><stop offset="0.607" stop-color="#747474"/><stop offset="0.643" stop-color="#7d7d7d"/><stop offset="0.679" stop-color="#808080"/><stop offset="0.714" stop-color="#808080"/><stop offset="0.750" stop-color="#808080"/><stop offset="0.786" stop-color="#808080"/><stop offset="0.821" stop-color="#818181"/><stop offset="0.857" stop-color="#8f8f8f"/><stop offset="0.893" stop-color="#9d9d9d"/><stop offset="0.929" stop-color="#9c9c9c"/><stop offset="0.964" stop-color="#929292"/><stop offset="1.000" stop-color="#808080"/></linearGradient>
<linearGradient id="x15" x1="0" y1="0" x2="0" y2="1"><stop offset="0.000" stop-color="#808080"/><stop offset="0.024" stop-color="#8c8c8c"/><stop offset="0.049" stop-color="#949494"/><stop offset="0.073" stop-color="#989898"/><stop offset="0.098" stop-color="#989898"/><stop offset="0.122" stop-color="#8f8f8f"/><stop offset="0.146" stop-color="#838383"/><stop offset="0.171" stop-color="#808080"/><stop offset="0.195" stop-color="#808080"/><stop offset="0.220" stop-color="#808080"/><stop offset="0.244" stop-color="#808080"/><stop offset="0.268" stop-color="#808080"/><stop offset="0.293" stop-color="#808080"/><stop offset="0.317" stop-color="#808080"/><stop offset="0.341" stop-color="#808080"/><stop offset="0.366" stop-color="#808080"/><stop offset="0.390" stop-color="#828282"/><stop offset="0.415" stop-color="#8d8d8d"/><stop offset="0.439" stop-color="#9a9a9a"/><stop offset="0.463" stop-color="#9e9e9e"/><stop offset="0.488" stop-color="#8c8c8c"/><stop offset="0.512" stop-color="#6c6c6c"/><stop offset="0.537" stop-color="#4e4e4e"/><stop offset="0.561" stop-color="#404040"/><stop offset="0.585" stop-color="#4a4a4a"/><stop offset="0.610" stop-color="#636363"/><stop offset="0.634" stop-color="#828282"/><stop offset="0.659" stop-color="#9f9f9f"/><stop offset="0.683" stop-color="#b1b1b1"/><stop offset="0.707" stop-color="#b0b0b0"/><stop offset="0.732" stop-color="#a4a4a4"/><stop offset="0.756" stop-color="#939393"/><stop offset="0.780" stop-color="#808080"/><stop offset="0.805" stop-color="#727272"/><stop offset="0.829" stop-color="#666666"/><stop offset="0.854" stop-color="#5b5b5b"/><stop offset="0.878" stop-color="#595959"/><stop offset="0.902" stop-color="#5c5c5c"/><stop offset="0.927" stop-color="#606060"/><stop offset="0.951" stop-color="#666666"/><stop offset="0.976" stop-color="#717171"/><stop offset="1.000" stop-color="#808080"/></linearGradient>
<linearGradient id="x16" x1="0" y1="0" x2="0" y2="1"><stop offset="0.000" stop-color="#808080"/><stop offset="0.167" stop-color="#5c5c5c"/><stop offset="0.333" stop-color="#474747"/><stop offset="0.500" stop-color="#404040"/><stop offset="0.667" stop-color="#474747"/><stop offset="0.833" stop-color="#5c5c5c"/><stop offset="1.000" stop-color="#808080"/></linearGradient>
<linearGradient id="x17" x1="0" y1="0" x2="0" y2="1"><stop offset="0.000" stop-color="#808080"/><stop offset="0.200" stop-color="#5f5f5f"/><stop offset="0.400" stop-color="#4f4f4f"/><stop offset="0.600" stop-color="#4f4f4f"/><stop offset="0.800" stop-color="#5f5f5f"/><stop offset="1.000" stop-color="#808080"/></linearGradient>
<linearGradient id="x18" x1="0" y1="0" x2="0" y2="1"><stop offset="0.000" stop-color="#808080"/><stop offset="0.200" stop-color="#4f4f4f"/><stop offset="0.400" stop-color="#363636"/><stop offset="0.600" stop-color="#363636"/><stop offset="0.800" stop-color="#4f4f4f"/><stop offset="1.000" stop-color="#808080"/></linearGradient>
<linearGradient id="x19" x1="0" y1="0" x2="0" y2="1"><stop offset="0.000" stop-color="#808080"/><stop offset="0.200" stop-color="#5f5f5f"/><stop offset="0.400" stop-color="#4f4f4f"/><stop offset="0.600" stop-color="#4f4f4f"/><stop offset="0.800" stop-color="#5f5f5f"/><stop offset="1.000" stop-color="#808080"/></linearGradient>
<linearGradient id="x20" x1="0" y1="0" x2="0" y2="1"><stop offset="0.000" stop-color="#808080"/><stop offset="0.250" stop-color="#8f8f8f"/><stop offset="0.500" stop-color="#949494"/><stop offset="0.750" stop-color="#8f8f8f"/><stop offset="1.000" stop-color="#808080"/></linearGradient>
<linearGradient id="x21" x1="0" y1="0" x2="0" y2="1"><stop offset="0.000" stop-color="#808080"/><stop offset="0.091" stop-color="#909090"/><stop offset="0.182" stop-color="#9a9a9a"/><stop offset="0.273" stop-color="#9e9e9e"/><stop offset="0.364" stop-color="#999999"/><stop offset="0.455" stop-color="#868686"/><stop offset="0.545" stop-color="#6e6e6e"/><stop offset="0.636" stop-color="#5c5c5c"/><stop offset="0.727" stop-color="#5a5a5a"/><stop offset="0.818" stop-color="#606060"/><stop offset="0.909" stop-color="#6c6c6c"/><stop offset="1.000" stop-color="#808080"/></linearGradient>
<linearGradient id="x22" x1="0" y1="0" x2="0" y2="1"><stop offset="0.000" stop-color="#808080"/><stop offset="0.062" stop-color="#8f8f8f"/><stop offset="0.125" stop-color="#9a9a9a"/><stop offset="0.188" stop-color="#9e9e9e"/><stop offset="0.250" stop-color="#9a9a9a"/><stop offset="0.312" stop-color="#8e8e8e"/><stop offset="0.375" stop-color="#828282"/><stop offset="0.438" stop-color="#808080"/><stop offset="0.500" stop-color="#808080"/><stop offset="0.562" stop-color="#808080"/><stop offset="0.625" stop-color="#808080"/><stop offset="0.688" stop-color="#888888"/><stop offset="0.750" stop-color="#989898"/><stop offset="0.812" stop-color="#a3a3a3"/><stop offset="0.875" stop-color="#a0a0a0"/><stop offset="0.938" stop-color="#949494"/><stop offset="1.000" stop-color="#808080"/></linearGradient>
<linearGradient id="f1" x1="0" y1="0" x2="0" y2="1"><stop offset="0.000" stop-color="#808080"/><stop offset="0.083" stop-color="#8c8c8c"/><stop offset="0.167" stop-color="#5f5f5f"/><stop offset="0.250" stop-color="#666666"/><stop offset="0.333" stop-color="#b9b9b9"/><stop offset="0.417" stop-color="#bcbcbc"/><stop offset="0.500" stop-color="#5a5a5a"/><stop offset="0.583" stop-color="#393939"/><stop offset="0.667" stop-color="#909090"/><stop offset="0.750" stop-color="#d1d1d1"/><stop offset="0.833" stop-color="#909090"/><stop offset="0.917" stop-color="#656565"/><stop offset="1.000" stop-color="#808080"/></linearGradient>
<linearGradient id="f2" x1="0" y1="0" x2="0" y2="1"><stop offset="0.000" stop-color="#808080"/><stop offset="0.071" stop-color="#969696"/><stop offset="0.143" stop-color="#8a8a8a"/><stop offset="0.214" stop-color="#4c4c4c"/><stop offset="0.286" stop-color="#5c5c5c"/><stop offset="0.357" stop-color="#a3a3a3"/><stop offset="0.429" stop-color="#a9a9a9"/><stop offset="0.500" stop-color="#5e5e5e"/><stop offset="0.571" stop-color="#393939"/><stop offset="0.643" stop-color="#8d8d8d"/><stop offset="0.714" stop-color="#cccccc"/><stop offset="0.786" stop-color="#878787"/><stop offset="0.857" stop-color="#494949"/><stop offset="0.929" stop-color="#6a6a6a"/><stop offset="1.000" stop-color="#808080"/></linearGradient>
<linearGradient id="f3" x1="0" y1="0" x2="0" y2="1"><stop offset="0.000" stop-color="#808080"/><stop offset="0.083" stop-color="#8d8d8d"/><stop offset="0.167" stop-color="#a5a5a5"/><stop offset="0.250" stop-color="#777777"/><stop offset="0.333" stop-color="#4a4a4a"/><stop offset="0.417" stop-color="#828282"/><stop offset="0.500" stop-color="#b8b8b8"/><stop offset="0.583" stop-color="#8d8d8d"/><stop offset="0.667" stop-color="#505050"/><stop offset="0.750" stop-color="#5f5f5f"/><stop offset="0.833" stop-color="#959595"/><stop offset="0.917" stop-color="#8e8e8e"/><stop offset="1.000" stop-color="#808080"/></linearGradient>
<linearGradient id="f4" x1="0" y1="0" x2="0" y2="1"><stop offset="0.000" stop-color="#808080"/><stop offset="0.111" stop-color="#777777"/><stop offset="0.222" stop-color="#696969"/><stop offset="0.333" stop-color="#838383"/><stop offset="0.444" stop-color="#9e9e9e"/><stop offset="0.556" stop-color="#818181"/><stop offset="0.667" stop-color="#626262"/><stop offset="0.778" stop-color="#7a7a7a"/><stop offset="0.889" stop-color="#898989"/><stop offset="1.000" stop-color="#808080"/></linearGradient>
<linearGradient id="f5" x1="0" y1="0" x2="0" y2="1"><stop offset="0.000" stop-color="#808080"/><stop offset="0.077" stop-color="#858585"/><stop offset="0.154" stop-color="#6a6a6a"/><stop offset="0.231" stop-color="#6e6e6e"/><stop offset="0.308" stop-color="#939393"/><stop offset="0.385" stop-color="#868686"/><stop offset="0.462" stop-color="#616161"/><stop offset="0.538" stop-color="#6e6e6e"/><stop offset="0.615" stop-color="#9a9a9a"/><stop offset="0.692" stop-color="#9a9a9a"/><stop offset="0.769" stop-color="#6d6d6d"/><stop offset="0.846" stop-color="#686868"/><stop offset="0.923" stop-color="#848484"/><stop offset="1.000" stop-color="#808080"/></linearGradient>
<linearGradient id="f6" x1="0" y1="0" x2="0" y2="1"><stop offset="0.000" stop-color="#808080"/><stop offset="0.091" stop-color="#878787"/><stop offset="0.182" stop-color="#747474"/><stop offset="0.273" stop-color="#707070"/><stop offset="0.364" stop-color="#929292"/><stop offset="0.455" stop-color="#999999"/><stop offset="0.545" stop-color="#757575"/><stop offset="0.636" stop-color="#5e5e5e"/><stop offset="0.727" stop-color="#828282"/><stop offset="0.818" stop-color="#9c9c9c"/><stop offset="0.909" stop-color="#898989"/><stop offset="1.000" stop-color="#808080"/></linearGradient>
<linearGradient id="vg" x1="0" y1="0" x2="0" y2="1"><stop offset="0.000" stop-color="#808080"/><stop offset="0.030" stop-color="#808080"/><stop offset="0.061" stop-color="#808080"/><stop offset="0.091" stop-color="#808080"/><stop offset="0.121" stop-color="#808080"/><stop offset="0.152" stop-color="#808080"/><stop offset="0.182" stop-color="#808080"/><stop offset="0.212" stop-color="#808080"/><stop offset="0.242" stop-color="#818181"/><stop offset="0.273" stop-color="#828282"/><stop offset="0.303" stop-color="#858585"/><stop offset="0.333" stop-color="#8a8a8a"/><stop offset="0.364" stop-color="#929292"/><stop offset="0.394" stop-color="#9d9d9d"/><stop offset="0.424" stop-color="#a9a9a9"/><stop offset="0.455" stop-color="#b6b6b6"/><stop offset="0.485" stop-color="#c0c0c0"/><stop offset="0.515" stop-color="#c5c5c5"/><stop offset="0.545" stop-color="#c4c4c4"/><stop offset="0.576" stop-color="#bdbdbd"/><stop offset="0.606" stop-color="#b1b1b1"/><stop offset="0.636" stop-color="#a4a4a4"/><stop offset="0.667" stop-color="#989898"/><stop offset="0.697" stop-color="#8e8e8e"/><stop offset="0.727" stop-color="#888888"/><stop offset="0.758" stop-color="#848484"/><stop offset="0.788" stop-color="#818181"/><stop offset="0.818" stop-color="#808080"/><stop offset="0.848" stop-color="#808080"/><stop offset="0.879" stop-color="#808080"/><stop offset="0.909" stop-color="#808080"/><stop offset="0.939" stop-color="#808080"/><stop offset="0.970" stop-color="#808080"/><stop offset="1.000" stop-color="#808080"/></linearGradient>
</defs>
<g id="heat" filter="url(#jet)">
<g id="sig">
<rect x="111.5" y="54.5" width="674.0" height="396.0" fill="url(#sg)"/>
<rect x="376" y="236" width="114" height="86" fill="url(#sg2)"/>
<rect x="519.5" y="280" width="3" height="24" fill="url(#f1)"/>
<rect x="606.5" y="245" width="3" height="27" fill="url(#f2)"/>
<rect x="624.5" y="280" width="3" height="24" fill="url(#f3)"/>
<rect x="678.5" y="280" width="3" height="18" fill="url(#f4)"/>
<rect x="698" y="280" width="4" height="26" fill="url(#f5)"/>
<rect x="753" y="246" width="3" height="22" fill="url(#f6)"/>
<rect x="380.8" y="189" width="4.5" height="91" fill="url(#x0)"/>
<rect x="376.5" y="272" width="5" height="43" fill="url(#x1)"/>
<rect x="422.5" y="197" width="3" height="110" fill="url(#x2)"/>
<rect x="426.7" y="199" width="3" height="102" fill="url(#x3)"/>
<rect x="482.5" y="223" width="3" height="92" fill="url(#x4)"/>
<rect x="535" y="239" width="4.5" height="101" fill="url(#x5)"/>
<rect x="539.5" y="236" width="3.5" height="102" fill="url(#x6)"/>
<rect x="143" y="280" width="4" height="26" fill="url(#x7)"/>
<rect x="235.6" y="246" width="2.6" height="23" fill="url(#x8)"/>
<rect x="242.2" y="246" width="2.6" height="23" fill="url(#x9)"/>
<rect x="248.1" y="246" width="2.6" height="23" fill="url(#x10)"/>
<rect x="345.8" y="243" width="3" height="32" fill="url(#x11)"/>
<rect x="408.1" y="252" width="3.5" height="23" fill="url(#x12)"/>
<rect x="412" y="288" width="3" height="9" fill="url(#x13)"/>
<rect x="470.7" y="252" width="3.2" height="42" fill="url(#x14)"/>
<rect x="324.5" y="222" width="4" height="61" fill="url(#x15)"/>
<rect x="369.5" y="222" width="3" height="8" fill="url(#x16)"/>
<rect x="242" y="215.5" width="13" height="7" fill="url(#x17)"/>
<rect x="278" y="215.5" width="5" height="7" fill="url(#x18)"/>
<rect x="300.2" y="215.5" width="4.5" height="7" fill="url(#x19)"/>
<rect x="229" y="212.3" width="22" height="5" fill="url(#x20)"/>
<rect x="448.8" y="244" width="3.5" height="16" fill="url(#x21)"/>
<rect x="499" y="244" width="3" height="24" fill="url(#x22)"/>
<rect x="544.0" y="53.5" width="45.3" height="398.0" fill="#808080"/>
<rect x="735.2" y="53.5" width="4.0" height="398.0" fill="#808080"/>
</g>
<g id="amp" transform="translate(900 0)">
<rect x="111.5" y="53.5" width="674.0" height="398.0" fill="#000"/>
<rect x="112.5" y="53.5" width="1.9" height="398.0" fill="#181818"/>
<rect x="114.3" y="53.5" width="3.8" height="398.0" fill="#151515"/>
<rect x="118" y="53.5" width="1.9" height="398.0" fill="#0f0f0f"/>
<rect x="119.9" y="53.5" width="1.9" height="398.0" fill="#181818"/>
<rect x="121.7" y="53.5" width="7.5" height="398.0" fill="#151515"/>
<rect x="129.1" y="53.5" width="3.8" height="398.0" fill="#121212"/>
<rect x="132.8" y="53.5" width="1.9" height="398.0" fill="#151515"/>
<rect x="134.6" y="53.5" width="3.8" height="398.0" fill="#181818"/>
<rect x="138.3" y="53.5" width="3.8" height="398.0" fill="#151515"/>
<rect x="142" y="53.5" width="1.9" height="398.0" fill="#181818"/>
<rect x="143.8" y="53.5" width="1.9" height="398.0" fill="#1b1b1b"/>
<rect x="145.6" y="53.5" width="3.8" height="398.0" fill="#151515"/>
<rect x="149.3" y="53.5" width="1.9" height="398.0" fill="#1b1b1b"/>
<rect x="151.2" y="53.5" width="1.9" height="398.0" fill="#151515"/>
<rect x="153" y="53.5" width="1.9" height="398.0" fill="#1b1b1b"/>
<rect x="154.8" y="53.5" width="1.9" height="398.0" fill="#1e1e1e"/>
<rect x="156.7" y="53.5" width="5.6" height="398.0" fill="#1b1b1b"/>
<rect x="162.2" y="53.5" width="13" height="398.0" fill="#181818"/>
<rect x="175.1" y="53.5" width="5.6" height="398.0" fill="#1b1b1b"/>
<rect x="180.6" y="53.5" width="1.9" height="398.0" fill="#1e1e1e"/>
<rect x="182.5" y="53.5" width="1.9" height="398.0" fill="#121212"/>
<rect x="184.3" y="53.5" width="1.9" height="398.0" fill="#1b1b1b"/>
<rect x="186.1" y="53.5" width="1.9" height="398.0" fill="#151515"/>
<rect x="188" y="53.5" width="1.9" height="398.0" fill="#121212"/>
<rect x="189.8" y="53.5" width="3.8" height="398.0" fill="#181818"/>
<rect x="193.5" y="53.5" width="1.9" height="398.0" fill="#1e1e1e"/>
<rect x="195.3" y="53.5" width="1.9" height="398.0" fill="#181818"/>
<rect x="197.2" y="53.5" width="3.8" height="398.0" fill="#1b1b1b"/>
<rect x="200.9" y="53.5" width="3.8" height="398.0" fill="#151515"/>
<rect x="204.6" y="53.5" width="3.8" height="398.0" fill="#181818"/>
<rect x="208.2" y="53.5" width="1.9" height="398.0" fill="#1b1b1b"/>
<rect x="210.1" y="53.5" width="1.9" height="398.0" fill="#181818"/>
<rect x="211.9" y="53.5" width="3.8" height="398.0" fill="#151515"/>
<rect x="215.6" y="53.5" width="1.9" height="398.0" fill="#181818"/>
<rect x="217.4" y="53.5" width="1.9" height="398.0" fill="#121212"/>
<rect x="219.3" y="53.5" width="1.9" height="398.0" fill="#151515"/>
<rect x="221.1" y="53.5" width="1.9" height="398.0" fill="#181818"/>
<rect x="223" y="53.5" width="1.9" height="398.0" fill="#121212"/>
<rect x="224.8" y="53.5" width="1.9" height="398.0" fill="#1b1b1b"/>
<rect x="226.6" y="53.5" width="1.9" height="398.0" fill="#121212"/>
<rect x="228.5" y="53.5" width="1.9" height="398.0" fill="#151515"/>
<rect x="230.3" y="53.5" width="1.9" height="398.0" fill="#1b1b1b"/>
<rect x="232.2" y="53.5" width="3.8" height="398.0" fill="#151515"/>
<rect x="235.9" y="53.5" width="1.9" height="398.0" fill="#1e1e1e"/>
<rect x="237.7" y="53.5" width="1.9" height="398.0" fill="#181818"/>
<rect x="239.5" y="53.5" width="1.9" height="398.0" fill="#1b1b1b"/>
<rect x="241.4" y="53.5" width="5.6" height="398.0" fill="#1e1e1e"/>
<rect x="246.9" y="53.5" width="3.8" height="398.0" fill="#1b1b1b"/>
<rect x="250.6" y="53.5" width="3.8" height="398.0" fill="#181818"/>
<rect x="254.3" y="53.5" width="3.8" height="398.0" fill="#121212"/>
<rect x="257.9" y="53.5" width="1.9" height="398.0" fill="#0f0f0f"/>
<rect x="259.8" y="53.5" width="1.9" height="398.0" fill="#181818"/>
<rect x="261.6" y="53.5" width="1.9" height="398.0" fill="#121212"/>
<rect x="263.5" y="53.5" width="1.9" height="398.0" fill="#181818"/>
<rect x="265.3" y="53.5" width="1.9" height="398.0" fill="#1b1b1b"/>
<rect x="267.2" y="53.5" width="1.9" height="398.0" fill="#121212"/>
<rect x="269" y="53.5" width="3.8" height="398.0" fill="#151515"/>
<rect x="272.7" y="53.5" width="1.9" height="398.0" fill="#1b1b1b"/>
<rect x="274.5" y="53.5" width="1.9" height="398.0" fill="#151515"/>
<rect x="276.4" y="53.5" width="1.9" height="398.0" fill="#181818"/>
<rect x="278.2" y="53.5" width="1.9" height="398.0" fill="#151515"/>
<rect x="280" y="53.5" width="1.9" height="398.0" fill="#2a2a2a"/>
<rect x="281.9" y="53.5" width="1.9" height="398.0" fill="#1e1e1e"/>
<rect x="283.7" y="53.5" width="1.9" height="398.0" fill="#151515"/>
<rect x="285.6" y="53.5" width="5.6" height="398.0" fill="#1b1b1b"/>
<rect x="291.1" y="53.5" width="1.9" height="398.0" fill="#151515"/>
<rect x="292.9" y="53.5" width="1.9" height="398.0" fill="#1b1b1b"/>
<rect x="294.8" y="53.5" width="3.8" height="398.0" fill="#181818"/>
<rect x="298.5" y="53.5" width="1.9" height="398.0" fill="#151515"/>
<rect x="300.3" y="53.5" width="1.9" height="398.0" fill="#0f0f0f"/>
<rect x="302.1" y="53.5" width="1.9" height="398.0" fill="#121212"/>
<rect x="304" y="53.5" width="5.6" height="398.0" fill="#181818"/>
<rect x="309.5" y="53.5" width="1.9" height="398.0" fill="#1e1e1e"/>
<rect x="311.3" y="53.5" width="1.9" height="398.0" fill="#212121"/>
<rect x="313.2" y="53.5" width="1.9" height="398.0" fill="#151515"/>
<rect x="315" y="53.5" width="1.9" height="398.0" fill="#1b1b1b"/>
<rect x="316.9" y="53.5" width="1.9" height="398.0" fill="#0f0f0f"/>
<rect x="318.7" y="53.5" width="1.9" height="398.0" fill="#0c0c0c"/>
<rect x="320.5" y="53.5" width="1.9" height="398.0" fill="#121212"/>
<rect x="322.4" y="53.5" width="1.9" height="398.0" fill="#0f0f0f"/>
<rect x="324.2" y="53.5" width="5.6" height="398.0" fill="#121212"/>
<rect x="329.7" y="53.5" width="3.8" height="398.0" fill="#151515"/>
<rect x="333.4" y="53.5" width="1.9" height="398.0" fill="#121212"/>
<rect x="335.3" y="53.5" width="1.9" height="398.0" fill="#1b1b1b"/>
<rect x="337.1" y="53.5" width="1.9" height="398.0" fill="#1e1e1e"/>
<rect x="339" y="53.5" width="1.9" height="398.0" fill="#272727"/>
<rect x="340.8" y="53.5" width="1.9" height="398.0" fill="#1e1e1e"/>
<rect x="342.6" y="53.5" width="1.9" height="398.0" fill="#242424"/>
<rect x="344.5" y="53.5" width="1.9" height="398.0" fill="#212121"/>
<rect x="346.3" y="53.5" width="1.9" height="398.0" fill="#242424"/>
<rect x="348.2" y="53.5" width="1.9" height="398.0" fill="#2a2a2a"/>
<rect x="350" y="53.5" width="1.9" height="398.0" fill="#212121"/>
<rect x="351.8" y="53.5" width="1.9" height="398.0" fill="#1b1b1b"/>
<rect x="353.7" y="53.5" width="3.8" height="398.0" fill="#1e1e1e"/>
<rect x="357.4" y="53.5" width="1.9" height="398.0" fill="#151515"/>
<rect x="359.2" y="53.5" width="1.9" height="398.0" fill="#181818"/>
<rect x="361" y="53.5" width="1.9" height="398.0" fill="#1e1e1e"/>
<rect x="362.9" y="53.5" width="1.9" height="398.0" fill="#1b1b1b"/>
<rect x="364.7" y="53.5" width="3.8" height="398.0" fill="#181818"/>
<rect x="368.4" y="53.5" width="1.9" height="398.0" fill="#1b1b1b"/>
<rect x="370.3" y="53.5" width="1.9" height="398.0" fill="#181818"/>
<rect x="372.1" y="53.5" width="3.8" height="398.0" fill="#212121"/>
<rect x="375.8" y="53.5" width="1.9" height="398.0" fill="#1e1e1e"/>
<rect x="377.6" y="53.5" width="1.9" height="398.0" fill="#181818"/>
<rect x="379.5" y="53.5" width="1.9" height="398.0" fill="#1b1b1b"/>
<rect x="381.3" y="53.5" width="5.6" height="398.0" fill="#333333"/>
<rect x="386.8" y="53.5" width="1.9" height="398.0" fill="#1e1e1e"/>
<rect x="388.7" y="53.5" width="1.9" height="398.0" fill="#212121"/>
<rect x="390.5" y="53.5" width="3.8" height="398.0" fill="#1b1b1b"/>
<rect x="394.2" y="53.5" width="3.8" height="398.0" fill="#181818"/>
<rect x="397.9" y="53.5" width="5.6" height="398.0" fill="#1e1e1e"/>
<rect x="403.4" y="53.5" width="1.9" height="398.0" fill="#181818"/>
<rect x="405.2" y="53.5" width="1.9" height="398.0" fill="#1b1b1b"/>
<rect x="407.1" y="53.5" width="5.6" height="398.0" fill="#1e1e1e"/>
<rect x="412.6" y="53.5" width="1.9" height="398.0" fill="#1b1b1b"/>
<rect x="414.4" y="53.5" width="1.9" height="398.0" fill="#1e1e1e"/>
<rect x="416.3" y="53.5" width="1.9" height="398.0" fill="#242424"/>
<rect x="418.1" y="53.5" width="3.8" height="398.0" fill="#212121"/>
<rect x="421.8" y="53.5" width="1.9" height="398.0" fill="#1b1b1b"/>
<rect x="423.6" y="53.5" width="3.8" height="398.0" fill="#393939"/>
<rect x="427.3" y="53.5" width="3.8" height="398.0" fill="#333333"/>
<rect x="431" y="53.5" width="3.8" height="398.0" fill="#181818"/>
<rect x="434.7" y="53.5" width="5.6" height="398.0" fill="#1e1e1e"/>
<rect x="440.2" y="53.5" width="1.9" height="398.0" fill="#1b1b1b"/>
<rect x="442.1" y="53.5" width="1.9" height="398.0" fill="#212121"/>
<rect x="443.9" y="53.5" width="1.9" height="398.0" fill="#1b1b1b"/>
<rect x="445.7" y="53.5" width="1.9" height="398.0" fill="#272727"/>
<rect x="447.6" y="53.5" width="5.6" height="398.0" fill="#212121"/>
<rect x="453.1" y="53.5" width="3.8" height="398.0" fill="#1b1b1b"/>
<rect x="456.8" y="53.5" width="1.9" height="398.0" fill="#1e1e1e"/>
<rect x="458.6" y="53.5" width="1.9" height="398.0" fill="#242424"/>
<rect x="460.5" y="53.5" width="3.8" height="398.0" fill="#181818"/>
<rect x="464.1" y="53.5" width="1.9" height="398.0" fill="#1b1b1b"/>
<rect x="466" y="53.5" width="1.9" height="398.0" fill="#151515"/>
<rect x="467.8" y="53.5" width="1.9" height="398.0" fill="#181818"/>
<rect x="469.7" y="53.5" width="1.9" height="398.0" fill="#1b1b1b"/>
<rect x="471.5" y="53.5" width="3.8" height="398.0" fill="#2a2a2a"/>
<rect x="475.2" y="53.5" width="1.9" height="398.0" fill="#242424"/>
<rect x="477" y="53.5" width="3.8" height="398.0" fill="#1b1b1b"/>
<rect x="480.7" y="53.5" width="1.9" height="398.0" fill="#1e1e1e"/>
<rect x="482.6" y="53.5" width="3.8" height="398.0" fill="#333333"/>
<rect x="486.2" y="53.5" width="1.9" height="398.0" fill="#181818"/>
<rect x="488.1" y="53.5" width="1.9" height="398.0" fill="#1e1e1e"/>
<rect x="489.9" y="53.5" width="1.9" height="398.0" fill="#151515"/>
<rect x="491.8" y="53.5" width="1.9" height="398.0" fill="#181818"/>
<rect x="493.6" y="53.5" width="3.8" height="398.0" fill="#151515"/>
<rect x="497.3" y="53.5" width="1.9" height="398.0" fill="#181818"/>
<rect x="499.1" y="53.5" width="1.9" height="398.0" fill="#1e1e1e"/>
<rect x="501" y="53.5" width="1.9" height="398.0" fill="#242424"/>
<rect x="502.8" y="53.5" width="1.9" height="398.0" fill="#272727"/>
<rect x="504.7" y="53.5" width="1.9" height="398.0" fill="#212121"/>
<rect x="506.5" y="53.5" width="1.9" height="398.0" fill="#1b1b1b"/>
<rect x="508.3" y="53.5" width="3.8" height="398.0" fill="#212121"/>
<rect x="512" y="53.5" width="3.8" height="398.0" fill="#242424"/>
<rect x="515.7" y="53.5" width="1.9" height="398.0" fill="#1b1b1b"/>
<rect x="517.5" y="53.5" width="1.9" height="398.0" fill="#272727"/>
<rect x="519.4" y="53.5" width="1.9" height="398.0" fill="#1b1b1b"/>
<rect x="521.2" y="53.5" width="1.9" height="398.0" fill="#212121"/>
<rect x="523.1" y="53.5" width="1.9" height="398.0" fill="#242424"/>
<rect x="524.9" y="53.5" width="1.9" height="398.0" fill="#212121"/>
<rect x="526.7" y="53.5" width="1.9" height="398.0" fill="#272727"/>
<rect x="528.6" y="53.5" width="1.9" height="398.0" fill="#151515"/>
<rect x="530.4" y="53.5" width="1.9" height="398.0" fill="#1e1e1e"/>
<rect x="532.3" y="53.5" width="1.9" height="398.0" fill="#212121"/>
<rect x="534.1" y="53.5" width="9.3" height="398.0" fill="#393939"/>
<rect x="543.3" y="53.5" width="3.8" height="398.0" fill="#151515"/>
<rect x="547" y="53.5" width="3.8" height="398.0" fill="#181818"/>
<rect x="550.7" y="53.5" width="1.9" height="398.0" fill="#212121"/>
<rect x="552.5" y="53.5" width="1.9" height="398.0" fill="#1e1e1e"/>
<rect x="554.4" y="53.5" width="3.8" height="398.0" fill="#242424"/>
<rect x="558" y="53.5" width="1.9" height="398.0" fill="#1e1e1e"/>
<rect x="559.9" y="53.5" width="1.9" height="398.0" fill="#1b1b1b"/>
<rect x="561.7" y="53.5" width="5.6" height="398.0" fill="#181818"/>
<rect x="567.3" y="53.5" width="1.9" height="398.0" fill="#1b1b1b"/>
<rect x="569.1" y="53.5" width="1.9" height="398.0" fill="#151515"/>
<rect x="570.9" y="53.5" width="3.8" height="398.0" fill="#181818"/>
<rect x="574.6" y="53.5" width="1.9" height="398.0" fill="#151515"/>
<rect x="576.5" y="53.5" width="1.9" height="398.0" fill="#181818"/>
<rect x="578.3" y="53.5" width="3.8" height="398.0" fill="#1e1e1e"/>
<rect x="582" y="53.5" width="7.5" height="398.0" fill="#181818"/>
<rect x="589.3" y="53.5" width="1.9" height="398.0" fill="#121212"/>
<rect x="591.2" y="53.5" width="3.8" height="398.0" fill="#0f0f0f"/>
<rect x="594.9" y="53.5" width="1.9" height="398.0" fill="#121212"/>
<rect x="596.7" y="53.5" width="5.6" height="398.0" fill="#0c0c0c"/>
<rect x="602.2" y="53.5" width="1.9" height="398.0" fill="#0f0f0f"/>
<rect x="604.1" y="53.5" width="3.8" height="398.0" fill="#0c0c0c"/>
<rect x="607.8" y="53.5" width="3.8" height="398.0" fill="#181818"/>
<rect x="611.4" y="53.5" width="1.9" height="398.0" fill="#151515"/>
<rect x="613.3" y="53.5" width="1.9" height="398.0" fill="#121212"/>
<rect x="615.1" y="53.5" width="1.9" height="398.0" fill="#0f0f0f"/>
<rect x="617" y="53.5" width="1.9" height="398.0" fill="#181818"/>
<rect x="618.8" y="53.5" width="1.9" height="398.0" fill="#151515"/>
<rect x="620.6" y="53.5" width="1.9" height="398.0" fill="#0f0f0f"/>
<rect x="622.5" y="53.5" width="3.8" height="398.0" fill="#121212"/>
<rect x="626.2" y="53.5" width="1.9" height="398.0" fill="#0f0f0f"/>
<rect x="628" y="53.5" width="1.9" height="398.0" fill="#151515"/>
<rect x="629.8" y="53.5" width="1.9" height="398.0" fill="#121212"/>
<rect x="631.7" y="53.5" width="1.9" height="398.0" fill="#151515"/>
<rect x="633.5" y="53.5" width="3.8" height="398.0" fill="#181818"/>
<rect x="637.2" y="53.5" width="7.5" height="398.0" fill="#1b1b1b"/>
<rect x="644.6" y="53.5" width="1.9" height="398.0" fill="#242424"/>
<rect x="646.4" y="53.5" width="1.9" height="398.0" fill="#1b1b1b"/>
<rect x="648.3" y="53.5" width="1.9" height="398.0" fill="#212121"/>
<rect x="650.1" y="53.5" width="1.9" height="398.0" fill="#181818"/>
<rect x="651.9" y="53.5" width="1.9" height="398.0" fill="#1b1b1b"/>
<rect x="653.8" y="53.5" width="1.9" height="398.0" fill="#181818"/>
<rect x="655.6" y="53.5" width="1.9" height="398.0" fill="#151515"/>
<rect x="657.5" y="53.5" width="1.9" height="398.0" fill="#121212"/>
<rect x="659.3" y="53.5" width="1.9" height="398.0" fill="#1e1e1e"/>
<rect x="661.1" y="53.5" width="1.9" height="398.0" fill="#151515"/>
<rect x="663" y="53.5" width="1.9" height="398.0" fill="#181818"/>
<rect x="664.8" y="53.5" width="5.6" height="398.0" fill="#1b1b1b"/>
<rect x="670.4" y="53.5" width="1.9" height="398.0" fill="#181818"/>
<rect x="672.2" y="53.5" width="1.9" height="398.0" fill="#151515"/>
<rect x="674" y="53.5" width="1.9" height="398.0" fill="#1b1b1b"/>
<rect x="675.9" y="53.5" width="7.5" height="398.0" fill="#151515"/>
<rect x="683.2" y="53.5" width="5.6" height="398.0" fill="#121212"/>
<rect x="688.8" y="53.5" width="1.9" height="398.0" fill="#0f0f0f"/>
<rect x="690.6" y="53.5" width="5.6" height="398.0" fill="#121212"/>
<rect x="696.1" y="53.5" width="1.9" height="398.0" fill="#181818"/>
<rect x="698" y="53.5" width="1.9" height="398.0" fill="#151515"/>
<rect x="699.8" y="53.5" width="3.8" height="398.0" fill="#1e1e1e"/>
<rect x="703.5" y="53.5" width="1.9" height="398.0" fill="#121212"/>
<rect x="705.3" y="53.5" width="1.9" height="398.0" fill="#181818"/>
<rect x="707.2" y="53.5" width="1.9" height="398.0" fill="#151515"/>
<rect x="709" y="53.5" width="1.9" height="398.0" fill="#181818"/>
<rect x="710.9" y="53.5" width="1.9" height="398.0" fill="#151515"/>
<rect x="712.7" y="53.5" width="1.9" height="398.0" fill="#181818"/>
<rect x="714.5" y="53.5" width="3.8" height="398.0" fill="#151515"/>
<rect x="718.2" y="53.5" width="1.9" height="398.0" fill="#121212"/>
<rect x="720.1" y="53.5" width="1.9" height="398.0" fill="#0f0f0f"/>
<rect x="721.9" y="53.5" width="7.5" height="398.0" fill="#121212"/>
<rect x="729.3" y="53.5" width="1.9" height="398.0" fill="#1b1b1b"/>
<rect x="731.1" y="53.5" width="1.9" height="398.0" fill="#181818"/>
<rect x="732.9" y="53.5" width="1.9" height="398.0" fill="#1e1e1e"/>
<rect x="734.8" y="53.5" width="1.9" height="398.0" fill="#181818"/>
<rect x="736.6" y="53.5" width="1.9" height="398.0" fill="#212121"/>
<rect x="738.5" y="53.5" width="1.9" height="398.0" fill="#181818"/>
<rect x="740.3" y="53.5" width="1.9" height="398.0" fill="#1b1b1b"/>
<rect x="742.2" y="53.5" width="1.9" height="398.0" fill="#151515"/>
<rect x="744" y="53.5" width="1.9" height="398.0" fill="#181818"/>
<rect x="745.8" y="53.5" width="1.9" height="398.0" fill="#1b1b1b"/>
<rect x="747.7" y="53.5" width="3.8" height="398.0" fill="#121212"/>
<rect x="751.4" y="53.5" width="3.8" height="398.0" fill="#151515"/>
<rect x="755" y="53.5" width="1.9" height="398.0" fill="#121212"/>
<rect x="756.9" y="53.5" width="1.9" height="398.0" fill="#1b1b1b"/>
<rect x="758.7" y="53.5" width="1.9" height="398.0" fill="#181818"/>
<rect x="760.6" y="53.5" width="1.9" height="398.0" fill="#1e1e1e"/>
<rect x="762.4" y="53.5" width="1.9" height="398.0" fill="#1b1b1b"/>
<rect x="764.2" y="53.5" width="3.8" height="398.0" fill="#151515"/>
<rect x="767.9" y="53.5" width="1.9" height="398.0" fill="#1b1b1b"/>
<rect x="769.8" y="53.5" width="1.9" height="398.0" fill="#121212"/>
<rect x="771.6" y="53.5" width="1.9" height="398.0" fill="#151515"/>
<rect x="773.5" y="53.5" width="3.8" height="398.0" fill="#181818"/>
<rect x="777.1" y="53.5" width="1.9" height="398.0" fill="#1b1b1b"/>
<rect x="779" y="53.5" width="1.9" height="398.0" fill="#121212"/>
<rect x="780.8" y="53.5" width="1.9" height="398.0" fill="#1e1e1e"/>
<rect x="782.7" y="53.5" width="1.9" height="398.0" fill="#181818"/>
<rect x="260.7" y="62.5" width="1.2" height="382.0" fill="#616161"/>
<rect x="542.4" y="62.5" width="1.3" height="382.0" fill="#999999"/>
<rect x="608.5" y="62.5" width="1.1" height="382.0" fill="#4c4c4c"/>
<rect x="733.8" y="62.5" width="1.1" height="382.0" fill="#333333"/>
<rect x="544.0" y="53.5" width="45.3" height="398.0" fill="#000"/>
<rect x="735.2" y="53.5" width="4.0" height="398.0" fill="#000"/>
</g>
<rect transform="translate(1800 0)" x="111.5" y="54.5" width="674.0" height="396.0" fill="url(#vg)"/>
</g>
<polyline fill="none" stroke="#0000ff" stroke-width="2.5" stroke-linejoin="round" stroke-linecap="butt" points="112.5,502.5 113,502.5 113.5,502.5 114,502.5 114.5,502.4 115,502.4 115.5,502.4 116,502.3 116.5,502.3 117,502.3 117.5,502.3 118,502.3 118.5,502.3 119,502.3 119.5,502.3 120,502.3 120.5,502.3 121,502.3 121.5,502.2 122,502.2 122.5,502.3 123,502.3 123.5,502.4 124,502.5 124.5,502.6 125,502.8 125.5,502.9 126,503.1 126.5,503.2 127,503.4 127.5,503.5 128,503.6 128.5,503.7 129,503.7 129.5,503.7 130,503.7 130.5,503.7 131,503.6 131.5,503.4 132,503.3 132.5,503.1 133,503 133.5,502.9 134,502.7 134.5,502.6 135,502.6 135.5,502.5 136,502.6 136.5,502.6 137,502.6 137.5,502.6 138,502.7 138.5,502.7 139,502.7 139.5,502.8 140,502.8 140.5,502.8 141,502.8 141.5,502.8 142,502.8 142.5,502.7 143,502.6 143.5,502.4 144,502.2 144.5,501.9 145,501.7 145.5,501.5 146,501.3 146.5,501.2 147,501.1 147.5,501 148,501.1 148.5,501.2 149,501.4 149.5,501.6 150,501.8 150.5,502.1 151,502.4 151.5,502.7 152,503 152.5,503.3 153,503.5 153.5,503.7 154,503.9 154.5,504 155,504 155.5,504 156,503.9 156.5,503.8 157,503.7 157.5,503.5 158,503.3 158.5,503.1 159,502.9 159.5,502.7 160,502.6 160.5,502.4 161,502.3 161.5,502.3 162,502.3 162.5,502.3 163,502.3 163.5,502.4 164,502.5 164.5,502.6 165,502.7 165.5,502.8 166,502.9 166.5,503 167,503 167.5,503.1 168,503.1 168.5,503.1 169,503.1 169.5,503.1 170,503 170.5,502.8 171,502.7 171.5,502.5 172,502.3 172.5,502.2 173,502 173.5,501.8 174,501.7 174.5,501.5 175,501.4 175.5,501.4 176,501.3 176.5,501.4 177,501.4 177.5,501.5 178,501.6 178.5,501.7 179,501.9 179.5,502 180,502.2 180.5,502.3 181,502.5 181.5,502.6 182,502.7 182.5,502.8 183,502.8 183.5,502.8 184,502.8 184.5,502.8 185,502.8 185.5,502.7 186,502.7 186.5,502.6 187,502.6 187.5,502.6 188,502.5 188.5,502.6 189,502.7 189.5,502.8 190,503 190.5,503.2 191,503.5 191.5,503.7 192,503.8 192.5,504 193,504 193.5,504 194,504 194.5,503.9 195,503.7 195.5,503.6 196,503.4 196.5,503.2 197,503 197.5,502.8 198,502.6 198.5,502.5 199,502.4 199.5,502.3 200,502.2 200.5,502.3 201,502.3 201.5,502.3 202,502.4 202.5,502.5 203,502.6 203.5,502.6 204,502.7 204.5,502.8 205,502.8 205.5,502.8 206,502.8 206.5,502.8 207,502.7 207.5,502.6 208,502.4 208.5,502.2 209,502 209.5,501.8 210,501.6 210.5,501.5 211,501.3 211.5,501.2 212,501.2 212.5,501.2 213,501.4 213.5,501.6 214,501.8 214.5,502.1 215,502.4 215.5,502.7 216,503 216.5,503.3 217,503.6 217.5,503.8 218,504 218.5,504 219,504 219.5,504 220,504 220.5,504 221,503.9 221.5,503.8 222,503.7 222.5,503.7 223,503.6 223.5,503.5 224,503.4 224.5,503.3 225,503.1 225.5,503 226,502.9 226.5,502.7 227,502.5 227.5,502.4 228,502.3 228.5,502.1 229,502 229.5,501.8 230,501.7 230.5,501.6 231,501.5 231.5,501.4 232,501.4 232.5,501.3 233,501.4 233.5,501.5 234,501.6 234.5,501.7 235,501.9 235.5,502.1 236,502.3 236.5,502.5 237,502.6 237.5,502.7 238,502.8 238.5,502.8 239,502.8 239.5,502.8 240,502.8 240.5,502.8 241,502.8 241.5,502.8 242,502.8 242.5,502.8 243,502.8 243.5,502.8 244,502.8 244.5,502.8 245,502.8 245.5,502.8 246,502.8 246.5,502.8 247,502.8 247.5,502.8 248,502.8 248.5,502.8 249,502.8 249.5,502.8 250,502.8 250.5,502.8 251,502.8 251.5,502.8 252,502.8 252.5,502.8 253,502.8 253.5,502.8 254,502.8 254.5,502.8 255,502.8 255.5,502.9 256,503 256.5,503.1 257,503.2 257.5,503.4 258,503.6 258.5,503.7 259,503.9 259.5,504 260,504 260.5,504 261,504 261.5,503.8 262,503.7 262.5,503.5 263,503.2 263.5,503 264,502.7 264.5,502.4 265,502.2 265.5,501.9 266,501.7 266.5,501.5 267,501.4 267.5,501.4 268,501.4 268.5,501.4 269,501.4 269.5,501.5 270,501.6 270.5,501.7 271,501.8 271.5,501.8 272,501.9 272.5,501.9 273,501.9 273.5,501.9 274,501.9 274.5,501.8 275,501.6 275.5,501.5 276,501.4 276.5,501.3 277,501.2 277.5,501.2 278,501.2 278.5,501.3 279,501.5 279.5,501.7 280,501.9 280.5,502.2 281,502.5 281.5,502.8 282,503 282.5,503.3 283,503.6 283.5,503.8 284,503.9 284.5,504 285,504 285.5,504 286,504 286.5,504 287,504 287.5,504 288,504 288.5,503.9 289,503.9 289.5,503.9 290,503.8 290.5,503.8 291,503.7 291.5,503.7 292,503.6 292.5,503.4 293,503.2 293.5,503 294,502.7 294.5,502.4 295,502.2 295.5,501.9 296,501.7 296.5,501.5 297,501.3 297.5,501.2 298,501.1 298.5,501 299,501.1 299.5,501.1 300,501.1 300.5,501.1 301,501.2 301.5,501.3 302,501.3 302.5,501.4 303,501.6 303.5,501.8 304,502.2 304.5,502.5 305,502.9 305.5,503.2 306,503.6 306.5,503.8 307,504 307.5,504 308,504 308.5,503.9 309,503.7 309.5,503.4 310,503.1 310.5,502.8 311,502.5 311.5,502.1 312,501.8 312.5,501.6 313,501.3 313.5,501.2 314,501.1 314.5,501.1 315,501.1 315.5,501.3 316,501.5 316.5,501.8 317,502.1 317.5,502.4 318,502.7 318.5,503.1 319,503.4 319.5,503.8 320,504.1 320.5,504.4 321,504.6 321.5,504.8 322,504.9 322.5,504.9 323,504.9 323.5,504.8 324,504.6 324.5,504.3 325,504.1 325.5,503.8 326,503.5 326.5,503.1 327,502.9 327.5,502.6 328,502.4 328.5,502.2 329,502.2 329.5,502.1 330,502 330.5,501.8 331,501.5 331.5,501.2 332,500.9 332.5,500.5 333,500.3 333.5,500.1 334,500.1 334.5,500.2 335,500.3 335.5,500.5 336,500.7 336.5,500.9 337,501.1 337.5,501.5 338,502 338.5,502.5 339,503 339.5,503.4 340,503.6 340.5,503.7 341,503.7 341.5,503.7 342,503.7 342.5,503.7 343,503.7 343.5,503.7 344,503.7 344.5,503.7 345,503.5 345.5,503.4 346,503.3 346.5,503.2 347,503.1 347.5,503.2 348,503.3 348.5,503.4 349,503.5 349.5,503.6 350,503.8 350.5,503.9 351,504.1 351.5,504.3 352,504.4 352.5,504.4 353,504.4 353.5,504.2 354,504 354.5,503.7 355,503.4 355.5,503.1 356,502.8 356.5,502.6 357,502.4 357.5,502.3 358,502.3 358.5,502.2 359,502.2 359.5,502.1 360,502.1 360.5,502.1 361,502 361.5,502 362,501.9 362.5,501.9 363,501.8 363.5,501.4 364,500.9 364.5,500.2 365,499.3 365.5,498.4 366,497.5 366.5,496.7 367,496 367.5,495.4 368,495 368.5,494.9 369,495 369.5,495.5 370,496 370.5,496.8 371,497.6 371.5,498.4 372,499.3 372.5,500.1 373,501.2 373.5,502.5 374,503.9 374.5,505.4 375,506.8 375.5,508.1 376,509.1 376.5,509.9 377,510.4 377.5,510.4 378,510.2 378.5,509.8 379,509.2 379.5,508.5 380,507.8 380.5,507 381,506.2 381.5,505.4 382,504.7 382.5,504.1 383,503.7 383.5,503.5 384,503.4 384.5,503.3 385,503.2 385.5,503.1 386,503 386.5,502.9 387,502.6 387.5,502.3 388,502 388.5,501.6 389,501.2 389.5,500.8 390,500.3 390.5,499.9 391,499.5 391.5,499.1 392,498.8 392.5,498.5 393,498.4 393.5,498.3 394,498.3 394.5,498.3 395,498.4 395.5,498.5 396,498.7 396.5,498.8 397,499 397.5,499.2 398,499.5 398.5,499.7 399,499.9 399.5,500.2 400,500.4 400.5,500.6 401,500.8 401.5,501.1 402,501.4 402.5,501.7 403,502 403.5,502.4 404,502.7 404.5,503 405,503.3 405.5,503.6 406,503.8 406.5,504 407,504.2 407.5,504.2 408,504.2 408.5,504.2 409,504.1 409.5,504 410,503.8 410.5,503.7 411,503.5 411.5,503.4 412,503.3 412.5,503.3 413,503.4 413.5,503.6 414,504 414.5,504.4 415,505 415.5,505.5 416,506.1 416.5,506.7 417,507.2 417.5,507.7 418,508 418.5,508.3 419,508.4 419.5,508.2 420,507.8 420.5,507.1 421,506.2 421.5,505.2 422,504.1 422.5,503 423,502 423.5,500.5 424,498.8 424.5,497 425,495.2 425.5,493.6 426,492.5 426.5,492.1 427,492.3 427.5,492.9 428,493.8 428.5,495 429,496.3 429.5,497.6 430,498.9 430.5,500 431,501.2 431.5,502.5 432,503.9 432.5,505.3 433,506.6 433.5,507.8 434,508.7 434.5,509.3 435,509.5 435.5,509.3 436,508.8 436.5,508.1 437,507.2 437.5,506.3 438,505.4 438.5,504.6 439,503.9 439.5,503.2 440,502.5 440.5,501.8 441,501.1 441.5,500.6 442,500.3 442.5,500.1 443,500.2 443.5,500.4 444,500.8 444.5,501.2 445,501.7 445.5,502.2 446,502.7 446.5,503.2 447,503.6 447.5,503.9 448,504.2 448.5,504.3 449,504.1 449.5,503.8 450,503.2 450.5,502.6 451,501.9 451.5,501.1 452,500.5 452.5,499.9 453,499.4 453.5,498.9 454,498.5 454.5,498 455,497.7 455.5,497.4 456,497.3 456.5,497.5 457,497.9 457.5,498.5 458,499.3 458.5,500.1 459,500.9 459.5,501.6 460,502.5 460.5,503.5 461,504.6 461.5,505.5 462,506.2 462.5,506.5 463,506.4 463.5,506.1 464,505.6 464.5,505 465,504.3 465.5,503.6 466,502.8 466.5,502 467,501.4 467.5,500.8 468,500.4 468.5,500.2 469,500.2 469.5,500.8 470,501.4 470.5,502.1 471,502.8 471.5,503.6 472,504.3 472.5,504.9 473,505.3 473.5,505.4 474,505.3 474.5,505.1 475,504.8 475.5,504.4 476,504 476.5,503.5 477,503 477.5,502.5 478,502.1 478.5,501.6 479,501.3 479.5,501 480,500.7 480.5,500.5 481,500.2 481.5,500 482,499.7 482.5,499.5 483,499.2 483.5,499 484,498.8 484.5,498.7 485,498.5 485.5,498.4 486,498.3 486.5,498.3 487,498.3 487.5,498.5 488,499 488.5,499.6 489,500.4 489.5,501.2 490,502 490.5,503.2 491,504.7 491.5,506.1 492,507.4 492.5,508.2 493,508.3 493.5,507.7 494,506.3 494.5,504.4 495,502.3 495.5,500.2 496,498.4 496.5,497 497,495.6 497.5,494.1 498,492.8 498.5,491.9 499,491.5 499.5,492 500,493.7 500.5,496.2 501,499.1 501.5,502.1 502,505 502.5,508.5 503,512.7 503.5,516.7 504,520.1 504.5,521.9 505,521.4 505.5,518 506,512.6 506.5,506.2 507,500 507.5,494.9 508,490.4 508.5,485.5 509,480.6 509.5,476.1 510,472.1 510.5,469.2 511,467.5 511.5,467.6 512,469.4 512.5,472.8 513,477.2 513.5,482.4 514,488 514.5,493.5 515,499.7 515.5,508.2 516,518.1 516.5,528.4 517,538 517.5,545.8 518,550.8 518.5,551.9 519,548.7 519.5,542.1 520,533.3 520.5,523.4 521,513.6 521.5,505.2 522,497.5 522.5,488.8 523,479.7 523.5,471 524,463.4 524.5,457.4 525,453.9 525.5,453.5 526,455.9 526.5,460.4 527,466.4 527.5,473 528,479.6 528.5,485.5 529,491.3 529.5,498.1 530,505.2 530.5,512.4 531,519.1 531.5,524.9 532,529.3 532.5,531.9 533,532.2 533.5,530.5 534,527.2 534.5,522.9 535,518.2 535.5,513.7 536,509.9 536.5,506.2 537,502.2 537.5,498.2 538,494.8 538.5,492.4 539,491.5 539.5,492 540,493.4 540.5,495.2 541,497.3 541.5,499.3 542,501 542.5,502.1 543,503.3 543.5,504.3 544,505.1 544.5,505.5 545,505.4 545.5,504.8 546,503.9 546.5,502.7 547,501.5 547.5,500.4 548,499.6 548.5,499.1 549,499 549.5,499.3 550,499.8 550.5,500.4 551,501.2 551.5,502 552,502.8 552.5,503.6 553,504.3 553.5,504.8 554,505.1 554.5,505.2 555,505 555.5,504.5 556,503.9 556.5,503.2 557,502.4 557.5,501.6 558,500.8 558.5,500.1 559,499.5 559.5,499.1 560,499 560.5,499.1 561,499.4 561.5,499.9 562,500.5 562.5,501.2 563,501.9 563.5,502.6 564,503.2 564.5,503.7 565,504.1 565.5,504.2 566,504.2 566.5,504.2 567,504 567.5,503.8 568,503.6 568.5,503.4 569,503.2 569.5,503 570,502.8 570.5,502.6 571,502.4 571.5,502.3 572,502.2 572.5,502.1 573,502 573.5,501.9 574,501.8 574.5,501.7 575,501.6 575.5,501.6 576,501.5 576.5,501.4 577,501.3 577.5,501.3 578,501.2 578.5,501.2 579,501.1 579.5,501.1 580,501.1 580.5,501.1 581,501.1 581.5,501.3 582,501.6 582.5,501.9 583,502.2 583.5,502.5 584,502.7 584.5,502.7 585,502.7 585.5,502.6 586,502.5 586.5,502.3 587,502.2 587.5,502 588,501.8 588.5,501.7 589,501.5 589.5,501.5 590,501.4 590.5,501.5 591,501.6 591.5,501.8 592,502.1 592.5,502.4 593,502.7 593.5,503 594,503.2 594.5,503.5 595,503.6 595.5,503.7 596,503.7 596.5,503.6 597,503.5 597.5,503.3 598,503.1 598.5,502.9 599,502.7 599.5,502.5 600,502.4 600.5,502.3 601,502.2 601.5,502.3 602,502.4 602.5,502.5 603,502.6 603.5,502.8 604,503 604.5,503.2 605,503.4 605.5,503.5 606,503.6 606.5,503.7 607,503.7 607.5,503.7 608,503.6 608.5,503.4 609,503.2 609.5,503 610,502.7 610.5,502.5 611,502.2 611.5,502 612,501.8 612.5,501.6 613,501.4 613.5,501.4 614,501.3 614.5,501.3 615,501.3 615.5,501.3 616,501.3 616.5,501.3 617,501.3 617.5,501.3 618,501.3 618.5,501.3 619,501.3 619.5,501.3 620,501.3 620.5,501.3 621,501.3 621.5,501.3 622,501.3 622.5,501.3 623,501.3 623.5,501.3 624,501.4 624.5,501.5 625,501.7 625.5,501.9 626,502.1 626.5,502.4 627,502.7 627.5,503.1 628,503.4 628.5,503.7 629,504 629.5,504.3 630,504.5 630.5,504.7 631,504.9 631.5,504.9 632,504.9 632.5,504.9 633,504.8 633.5,504.6 634,504.5 634.5,504.3 635,504 635.5,503.8 636,503.5 636.5,503.2 637,502.9 637.5,502.7 638,502.4 638.5,502.2 639,501.9 639.5,501.7 640,501.6 640.5,501.5 641,501.4 641.5,501.3 642,501.4 642.5,501.4 643,501.4 643.5,501.4 644,501.4 644.5,501.5 645,501.5 645.5,501.5 646,501.6 646.5,501.6 647,501.7 647.5,501.7 648,501.8 648.5,501.8 649,501.9 649.5,502 650,502 650.5,502.1 651,502.2 651.5,502.3 652,502.4 652.5,502.5 653,502.5 653.5,502.6 654,502.7 654.5,502.8 655,502.8 655.5,502.9 656,503 656.5,503.1 657,503.2 657.5,503.3 658,503.3 658.5,503.4 659,503.5 659.5,503.6 660,503.7 660.5,503.8 661,503.8 661.5,503.9 662,503.9 662.5,504 663,504 663.5,504 664,504 664.5,504 665,504 665.5,503.9 666,503.8 666.5,503.7 667,503.6 667.5,503.5 668,503.3 668.5,503.1 669,503 669.5,502.8 670,502.6 670.5,502.4 671,502.3 671.5,502.1 672,501.9 672.5,501.8 673,501.6 673.5,501.5 674,501.4 674.5,501.3 675,501.3 675.5,501.2 676,501.2 676.5,501.2 677,501.3 677.5,501.3 678,501.4 678.5,501.5 679,501.6 679.5,501.8 680,501.9 680.5,502 681,502.2 681.5,502.3 682,502.4 682.5,502.5 683,502.6 683.5,502.7 684,502.8 684.5,502.8 685,502.8 685.5,502.8 686,502.8 686.5,502.8 687,502.8 687.5,502.8 688,502.9 688.5,502.9 689,502.9 689.5,503 690,503.1 690.5,503.2 691,503.3 691.5,503.4 692,503.4 692.5,503.5 693,503.6 693.5,503.7 694,503.8 694.5,503.9 695,504 695.5,504 696,504 696.5,504 697,504 697.5,504 698,504 698.5,503.9 699,503.8 699.5,503.7 700,503.6 700.5,503.5 701,503.3 701.5,503.2 702,503.1 702.5,502.9 703,502.8 703.5,502.6 704,502.5 704.5,502.3 705,502.2 705.5,502 706,501.9 706.5,501.8 707,501.7 707.5,501.6 708,501.5 708.5,501.4 709,501.4 709.5,501.4 710,501.3 710.5,501.4 711,501.4 711.5,501.4 712,501.4 712.5,501.5 713,501.5 713.5,501.6 714,501.6 714.5,501.6 715,501.7 715.5,501.8 716,502 716.5,502.1 717,502.3 717.5,502.5 718,502.7 718.5,502.9 719,503.1 719.5,503.3 720,503.5 720.5,503.7 721,503.8 721.5,503.9 722,504 722.5,504 723,504 723.5,504 724,504 724.5,503.9 725,503.8 725.5,503.7 726,503.6 726.5,503.5 727,503.3 727.5,503.2 728,503.1 728.5,502.9 729,502.7 729.5,502.6 730,502.4 730.5,502.3 731,502.1 731.5,502 732,501.8 732.5,501.7 733,501.6 733.5,501.5 734,501.5 734.5,501.4 735,501.4 735.5,501.3 736,501.4 736.5,501.4 737,501.5 737.5,501.7 738,501.8 738.5,502 739,502.2 739.5,502.3 740,502.5 740.5,502.7 741,502.8 741.5,503 742,503.1 742.5,503.1 743,503.1 743.5,503.1 744,503.1 744.5,503.1 745,503 745.5,502.9 746,502.8 746.5,502.7 747,502.7 747.5,502.6 748,502.5 748.5,502.4 749,502.3 749.5,502.3 750,502.3 750.5,502.2 751,502.3 751.5,502.3 752,502.3 752.5,502.4 753,502.5 753.5,502.6 754,502.7 754.5,502.7 755,502.8 755.5,502.9 756,503 756.5,503.1 757,503.1 757.5,503.1 758,503.1 758.5,503.1 759,503.1 759.5,503 760,502.9 760.5,502.8 761,502.7 761.5,502.6 762,502.5 762.5,502.4 763,502.3 763.5,502.3 764,502.2 764.5,502.3 765,502.3 765.5,502.3 766,502.3 766.5,502.4 767,502.4 767.5,502.5 768,502.5 768.5,502.5 769,502.6 769.5,502.6 770,502.7 770.5,502.7 771,502.8 771.5,502.8 772,502.8 772.5,502.8 773,502.8 773.5,502.8 774,502.8 774.5,502.8 775,502.8 775.5,502.8 776,502.8 776.5,502.8 777,502.8 777.5,502.8 778,502.8 778.5,502.8 779,502.8 779.5,502.8 780,502.8 780.5,502.7 781,502.7 781.5,502.7 782,502.7 782.5,502.6 783,502.6 783.5,502.5 784,502.5 784.5,502.5"/>
<g fill="none" stroke="#000" stroke-width="1" shape-rendering="crispEdges">
<rect x="112.5" y="54.5" width="672.0" height="396.0"/>
<rect x="112.5" y="450.5" width="672.0" height="105.0"/>
</g>
<path fill="none" stroke="#000" stroke-width="1" d="M169.5 54.5v6.1M221.5 54.5v6.1M278.5 54.5v6.1M333.5 54.5v6.1M390.5 54.5v6.1M445.5 54.5v6.1M502.5 54.5v6.1M559.5 54.5v6.1M615.5 54.5v6.1M672.5 54.5v6.1M727.5 54.5v6.1M112.5 120.5h6.1M784.5 120.5h-6.1M112.5 186.5h6.1M784.5 186.5h-6.1M112.5 252.5h6.1M784.5 252.5h-6.1M112.5 318.5h6.1M784.5 318.5h-6.1M112.5 384.5h6.1M784.5 384.5h-6.1M224.5 450.5v6.1M224.5 555.5v-6.1M336.5 450.5v6.1M336.5 555.5v-6.1M448.5 450.5v6.1M448.5 555.5v-6.1M560.5 450.5v6.1M560.5 555.5v-6.1M672.5 450.5v6.1M672.5 555.5v-6.1"/>
<g>
<text x="106.2" y="60.0" text-anchor="end">300</text>
<text x="106.2" y="126.0" text-anchor="end">200</text>
<text x="106.2" y="192.0" text-anchor="end">100</text>
<text x="107.6" y="258.0" text-anchor="end">0</text>
<text x="106.2" y="324.0" text-anchor="end">−100</text>
<text x="106.2" y="390.0" text-anchor="end">−200</text>
<text x="106.2" y="456.0" text-anchor="end">−300</text>
<text x="110.9" y="571.7" text-anchor="middle">−300</text>
<text x="222.9" y="571.7" text-anchor="middle">−200</text>
<text x="334.9" y="571.7" text-anchor="middle">−100</text>
<text x="448.3" y="571.7" text-anchor="middle">0</text>
<text x="560.3" y="571.7" text-anchor="middle">100</text>
<text x="672.3" y="571.7" text-anchor="middle">200</text>
<text x="784.3" y="571.7" text-anchor="middle">300</text>
<text x="448.6" y="590.6" text-anchor="middle">cross-correlation timelag (s)</text>
<text transform="translate(49 252.2) rotate(-90)" text-anchor="middle">cross-correlation timelag (s)</text>
<text x="99.1" y="497.9" text-anchor="end">stack of</text>
<text x="100.7" y="516" text-anchor="end">365.0 days</text>
<text x="446.9" y="25.6" text-anchor="middle">2014</text>
<text x="140.7" y="44.6" text-anchor="middle">Jan</text>
<text x="199.8" y="47.6" text-anchor="middle">Feb</text>
<text x="253.2" y="47.6" text-anchor="middle">Mar</text>
<text x="304.0" y="44.6" text-anchor="middle">Apr</text>
<text x="359.8" y="44.6" text-anchor="middle">May</text>
<text x="417.2" y="44.6" text-anchor="middle">Jun</text>
<text x="473.1" y="44.6" text-anchor="middle">Jul</text>
<text x="530.1" y="44.6" text-anchor="middle">Aug</text>
<text x="586.3" y="44.6" text-anchor="middle">Sep</text>
<text x="643.8" y="47.6" text-anchor="middle">Oct</text>
<text x="697.2" y="47.6" text-anchor="middle">Nov</text>
<text x="756.1" y="47.6" text-anchor="middle">Dec</text>
</g>
</svg></body></html>
